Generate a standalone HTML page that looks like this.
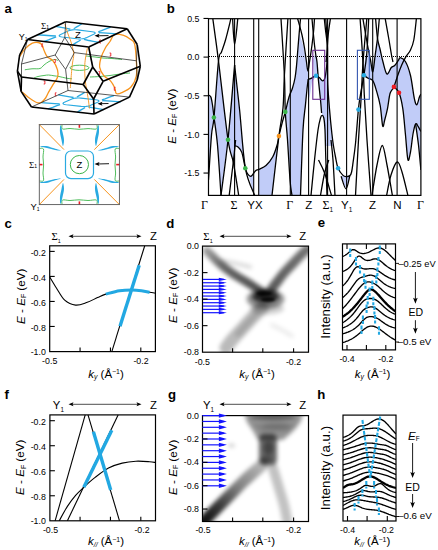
<!DOCTYPE html>
<html><head><meta charset="utf-8"><style>
html,body{margin:0;padding:0;background:#fff;width:438px;height:550px;overflow:hidden;}
svg{display:block;}
</style></head><body>
<svg width="438" height="550" viewBox="0 0 438 550">
<rect width="438" height="550" fill="#fff"/>
<text x="4.4" y="13" font-size="13.2" text-anchor="start" font-weight="bold" font-family='"Liberation Sans", sans-serif' fill="#000">a</text>
<path d="M94.25,33.97 L94.96,33.53 L95.24,33.08 L95.07,32.64 L94.48,32.24 L93.49,31.92 L92.18,31.69 L77.5,29.89 L75.95,29.77 L74.28,29.77 L72.59,29.88 L71.01,30.11 L69.63,30.43 L68.55,30.82 L60.15,34.73 L59.44,35.17 L59.16,35.62 L59.33,36.06 L59.92,36.46 L60.91,36.78 L62.22,37.01 L76.9,38.81 L78.45,38.93 L80.12,38.93 L81.81,38.82 L83.39,38.59 L84.77,38.27 L85.85,37.88Z" stroke="#29aae1" stroke-width="1.1" fill="none" stroke-linejoin="round"/>
<path d="M81.92,23.69 L79.02,25.58 L75.81,27.43 L73.75,28.76" stroke="#29aae1" stroke-width="1.3" fill="none" stroke-linejoin="round"/>
<path d="M110.68,27.21 L105.94,28.88 L101.51,30.59 L98.23,31.76" stroke="#29aae1" stroke-width="1.3" fill="none" stroke-linejoin="round"/>
<path d="M43.72,41.49 L48.46,39.82 L52.89,38.11 L56.17,36.94" stroke="#29aae1" stroke-width="1.3" fill="none" stroke-linejoin="round"/>
<path d="M72.48,45.01 L75.38,43.12 L78.59,41.27 L80.65,39.94" stroke="#29aae1" stroke-width="1.3" fill="none" stroke-linejoin="round"/>
<path d="M55.58,26.42 L61.12,27.43 L66.67,28.45 L70.38,29.24" stroke="#29aae1" stroke-width="1.3" fill="none" stroke-linejoin="round"/>
<path d="M116.78,33.92 L110.08,33.43 L103.39,32.95 L98.53,32.69" stroke="#29aae1" stroke-width="1.3" fill="none" stroke-linejoin="round"/>
<path d="M37.62,34.78 L44.32,35.27 L51.01,35.75 L55.87,36.01" stroke="#29aae1" stroke-width="1.3" fill="none" stroke-linejoin="round"/>
<path d="M98.82,42.28 L93.28,41.27 L87.73,40.25 L84.02,39.46" stroke="#29aae1" stroke-width="1.3" fill="none" stroke-linejoin="round"/>
<path d="M98.14,101.91 L98.8,101.5 L99.03,101.08 L98.82,100.67 L98.17,100.3 L97.14,100 L95.8,99.79 L80.8,98.11 L79.23,98 L77.55,97.99 L75.86,98.1 L74.29,98.31 L72.93,98.6 L71.89,98.97 L63.86,102.59 L63.2,103 L62.97,103.42 L63.18,103.83 L63.83,104.2 L64.86,104.5 L66.2,104.71 L81.2,106.39 L82.77,106.5 L84.45,106.51 L86.14,106.4 L87.71,106.19 L89.07,105.9 L90.11,105.53Z" stroke="#29aae1" stroke-width="1.1" fill="none" stroke-linejoin="round"/>
<path d="M84.56,92.36 L81.85,94.11 L78.83,95.83 L76.89,97.05" stroke="#29aae1" stroke-width="1.3" fill="none" stroke-linejoin="round"/>
<path d="M113.94,95.64 L109.35,97.19 L105.08,98.77 L101.89,99.86" stroke="#29aae1" stroke-width="1.3" fill="none" stroke-linejoin="round"/>
<path d="M48.06,108.86 L52.65,107.31 L56.92,105.73 L60.11,104.64" stroke="#29aae1" stroke-width="1.3" fill="none" stroke-linejoin="round"/>
<path d="M77.44,112.14 L80.15,110.39 L83.17,108.67 L85.11,107.45" stroke="#29aae1" stroke-width="1.3" fill="none" stroke-linejoin="round"/>
<path d="M58.33,94.87 L64.03,95.82 L69.73,96.77 L73.56,97.5" stroke="#29aae1" stroke-width="1.3" fill="none" stroke-linejoin="round"/>
<path d="M120.83,101.87 L114.03,101.42 L107.23,100.97 L102.31,100.72" stroke="#29aae1" stroke-width="1.3" fill="none" stroke-linejoin="round"/>
<path d="M41.17,102.63 L47.97,103.08 L54.77,103.53 L59.69,103.78" stroke="#29aae1" stroke-width="1.3" fill="none" stroke-linejoin="round"/>
<path d="M103.67,109.63 L97.97,108.68 L92.27,107.73 L88.44,107" stroke="#29aae1" stroke-width="1.3" fill="none" stroke-linejoin="round"/>
<path d="M24.8,69.8C26,69.63 29.47,69.02 32,68.8C34.53,68.58 38,69.13 40,68.5C42,67.87 42.5,66.17 44,65C45.5,63.83 47.25,62.42 49,61.5C50.75,60.58 53,59.67 54.5,59.5C56,59.33 57.42,60.33 58,60.5" stroke="#3cb54a" stroke-width="0.9" fill="none"/>
<path d="M34,78C34.67,77.75 36.33,76.92 38,76.5C39.67,76.08 42.23,75.75 44,75.5C45.77,75.25 46.93,74.95 48.6,75C50.27,75.05 52.27,75.55 54,75.8C55.73,76.05 56.93,76.1 59,76.5C61.07,76.9 64.23,77.82 66.4,78.2C68.57,78.58 71.07,78.7 72,78.8" stroke="#3cb54a" stroke-width="0.9" fill="none"/>
<ellipse cx="79.5" cy="67.8" rx="9.5" ry="2.6" stroke="#3cb54a" stroke-width="0.9" fill="none"/>
<path d="M86,56C87.5,56.17 92.17,56.67 95,57C97.83,57.33 100.17,57.75 103,58C105.83,58.25 108.83,58.25 112,58.5C115.17,58.75 120.33,59.33 122,59.5" stroke="#3cb54a" stroke-width="0.9" fill="none"/>
<path d="M90,77C91.67,76.92 96.67,76.75 100,76.5C103.33,76.25 106.67,75.92 110,75.5C113.33,75.08 116.67,74.42 120,74C123.33,73.58 128.33,73.17 130,73" stroke="#3cb54a" stroke-width="0.9" fill="none"/>
<path d="M19.6,56.6C20.47,55.35 22.68,51.33 24.8,49.1C26.92,46.87 30.07,44.3 32.3,43.2C34.53,42.1 36.6,42.25 38.2,42.5C39.8,42.75 40.92,43.35 41.9,44.7C42.88,46.05 43.23,48.62 44.1,50.6C44.97,52.58 45.62,54.88 47.1,56.6C48.58,58.32 51.27,58.7 53,60.9C54.73,63.1 56.75,67.07 57.5,69.8C58.25,72.53 58.25,74.82 57.5,77.3C56.75,79.78 54.48,82.23 53,84.7C51.52,87.17 49.83,89.88 48.6,92.1C47.37,94.32 46.83,96.27 45.6,98C44.37,99.73 42.68,101.75 41.2,102.5C39.72,103.25 38.68,103.25 36.7,102.5C34.72,101.75 31.28,99.37 29.3,98C27.32,96.63 26.17,95.4 24.8,94.3C23.43,93.2 21.72,91.88 21.1,91.4" stroke="#f7941d" stroke-width="1.3" fill="none"/>
<path d="M114.5,34.5C116.77,33.48 121.02,34.65 123.6,35.4C126.18,36.15 128.18,37.63 130,39C131.82,40.37 133.45,40.1 134.5,43.6C135.55,47.1 136,54.6 136.3,60C136.6,65.4 137.18,71.5 136.3,76C135.42,80.5 133.42,84.23 131,87C128.58,89.77 124.25,91.52 121.8,92.6C119.35,93.68 117.47,94.27 116.3,93.5C115.13,92.73 115.73,90.07 114.8,88C113.87,85.93 112.53,83.17 110.7,81.1C108.87,79.03 105.63,77.88 103.8,75.6C101.97,73.32 100.17,70.37 99.7,67.4C99.23,64.43 100.08,61 101,57.8C101.92,54.6 103.7,50.92 105.2,48.2C106.7,45.48 108.45,43.78 110,41.5C111.55,39.22 112.23,35.52 114.5,34.5Z" stroke="#f7941d" stroke-width="1.3" fill="none"/>
<path d="M64.9,24C65.42,25.67 66.98,31 68,34C69.02,37 70.05,38.72 71,42C71.95,45.28 73.45,50.2 73.7,53.7C73.95,57.2 72.85,60.03 72.5,63C72.15,65.97 71.97,67.33 71.6,71.5C71.23,75.67 70.52,85.25 70.3,88" stroke="#f7941d" stroke-width="0.9" fill="none"/>
<path d="M87.4,48.2C87.08,49.83 85.95,54.8 85.5,58C85.05,61.2 84.73,63.57 84.7,67.4C84.67,71.23 84.75,75.98 85.3,81C85.85,86.02 87.3,92.92 88,97.5C88.7,102.08 89.25,106.67 89.5,108.5" stroke="#f7941d" stroke-width="0.9" fill="none"/>
<path d="M43.1,43.9 L41.9,43.9 L41.9,46.9 L43.1,46.9" stroke="#ed1c24" stroke-width="0.9" fill="none"/>
<path d="M43.699999999999996,81.0 L44.9,81.0 L44.9,84.0 L43.699999999999996,84.0" stroke="#ed1c24" stroke-width="0.9" fill="none"/>
<path d="M56.5,92.8 L55.3,92.8 L55.3,95.8 L56.5,95.8" stroke="#ed1c24" stroke-width="0.9" fill="none"/>
<path d="M54.099999999999994,59.5 L55.3,59.5 L55.3,62.5 L54.099999999999994,62.5" stroke="#ed1c24" stroke-width="0.9" fill="none"/>
<path d="M100.9,40.0 L99.7,40.0 L99.7,43.0 L100.9,43.0" stroke="#ed1c24" stroke-width="0.9" fill="none"/>
<path d="M109.6,53.0 L110.8,53.0 L110.8,56.0 L109.6,56.0" stroke="#ed1c24" stroke-width="0.9" fill="none"/>
<path d="M115.5,87.3 L114.3,87.3 L114.3,90.3 L115.5,90.3" stroke="#ed1c24" stroke-width="0.9" fill="none"/>
<path d="M98.5,71.4 L99.7,71.4 L99.7,74.4 L98.5,74.4" stroke="#ed1c24" stroke-width="0.9" fill="none"/>
<line x1="65.7" y1="21.7" x2="64.8" y2="37.4" stroke="#222" stroke-width="0.75"/>
<line x1="64.8" y1="37.4" x2="55.2" y2="55" stroke="#222" stroke-width="0.75"/>
<line x1="55.2" y1="55" x2="65.6" y2="69.4" stroke="#222" stroke-width="0.75"/>
<line x1="65.6" y1="69.4" x2="74.4" y2="52.6" stroke="#222" stroke-width="0.75"/>
<line x1="74.4" y1="52.6" x2="64.8" y2="37.4" stroke="#222" stroke-width="0.75"/>
<line x1="55.2" y1="55" x2="21.5" y2="64" stroke="#222" stroke-width="0.75"/>
<line x1="74.4" y1="52.6" x2="136.5" y2="60.8" stroke="#222" stroke-width="0.75"/>
<line x1="65.6" y1="69.4" x2="68" y2="90.5" stroke="#222" stroke-width="0.75"/>
<line x1="68" y1="90.5" x2="31.5" y2="107" stroke="#222" stroke-width="0.75"/>
<line x1="68" y1="90.5" x2="129.5" y2="97.1" stroke="#222" stroke-width="0.75"/>
<line x1="27.5" y1="39.5" x2="21.5" y2="64" stroke="#222" stroke-width="0.75"/>
<line x1="21.5" y1="64" x2="21.5" y2="77" stroke="#222" stroke-width="0.75"/>
<line x1="136.5" y1="60.8" x2="137.2" y2="44.5" stroke="#222" stroke-width="0.75"/>
<line x1="136.5" y1="60.8" x2="137.2" y2="80" stroke="#222" stroke-width="0.75"/>
<line x1="27.5" y1="39.5" x2="65.7" y2="21.7" stroke="#000" stroke-width="1.6"/>
<line x1="65.7" y1="21.7" x2="127.2" y2="28.7" stroke="#000" stroke-width="1.6"/>
<line x1="127.2" y1="28.7" x2="88.7" y2="47" stroke="#000" stroke-width="1.6"/>
<line x1="88.7" y1="47" x2="27.5" y2="39.5" stroke="#000" stroke-width="1.6"/>
<line x1="27.5" y1="39.5" x2="19.6" y2="55" stroke="#000" stroke-width="1.6"/>
<line x1="19.6" y1="55" x2="17.4" y2="71.3" stroke="#000" stroke-width="1.6"/>
<line x1="17.4" y1="71.3" x2="21.1" y2="91.4" stroke="#000" stroke-width="1.6"/>
<line x1="21.1" y1="91.4" x2="31.5" y2="107" stroke="#000" stroke-width="1.6"/>
<line x1="31.5" y1="107" x2="94" y2="114" stroke="#000" stroke-width="1.6"/>
<line x1="94" y1="114" x2="129.5" y2="97.1" stroke="#000" stroke-width="1.6"/>
<line x1="129.5" y1="97.1" x2="137.2" y2="80" stroke="#000" stroke-width="1.6"/>
<line x1="137.2" y1="80" x2="140.3" y2="66.3" stroke="#000" stroke-width="1.6"/>
<line x1="140.3" y1="66.3" x2="137.2" y2="44.5" stroke="#000" stroke-width="1.6"/>
<line x1="137.2" y1="44.5" x2="127.2" y2="28.7" stroke="#000" stroke-width="1.6"/>
<line x1="88.7" y1="47" x2="92.7" y2="67" stroke="#000" stroke-width="1.6"/>
<line x1="92.7" y1="67" x2="83.2" y2="84.5" stroke="#000" stroke-width="1.6"/>
<line x1="83.2" y1="84.5" x2="93.6" y2="99" stroke="#000" stroke-width="1.6"/>
<line x1="93.6" y1="99" x2="103.1" y2="81.3" stroke="#000" stroke-width="1.6"/>
<line x1="103.1" y1="81.3" x2="92.7" y2="67" stroke="#000" stroke-width="1.6"/>
<line x1="93.6" y1="99" x2="94" y2="114" stroke="#000" stroke-width="1.6"/>
<line x1="83.2" y1="84.5" x2="21.5" y2="77" stroke="#000" stroke-width="1.6"/>
<line x1="103.1" y1="81.3" x2="140.3" y2="66.3" stroke="#000" stroke-width="1.6"/>
<line x1="21.5" y1="77" x2="21.1" y2="91.4" stroke="#000" stroke-width="1.6"/>
<line x1="17.4" y1="71.3" x2="21.5" y2="77" stroke="#000" stroke-width="1.6"/>
<text x="18.8" y="39.8" font-size="9" font-family='"Liberation Sans", sans-serif' fill="#000">Y<tspan font-size="5" dy="1.5">1</tspan></text>
<text x="41" y="29.2" font-size="9" font-family='"Liberation Serif", serif' fill="#000">Σ<tspan font-size="5" dy="0" font-family='"Liberation Sans", sans-serif'>1</tspan></text>
<text x="78" y="37.5" font-size="9.5" text-anchor="middle" font-weight="normal" font-family='"Liberation Sans", sans-serif' fill="#000">Z</text>
<line x1="108.5" y1="35.6" x2="97" y2="35.8" stroke="#000" stroke-width="0.9"/>
<path d="M94.5,35.8 L99.5,33.8 L98.5,35.8 L99.5,37.8Z" fill="#000"/>
<line x1="108.5" y1="103.5" x2="100" y2="103.7" stroke="#000" stroke-width="0.9"/>
<path d="M97.5,103.7 L102.5,101.7 L101.5,103.7 L102.5,105.7Z" fill="#000"/>
<line x1="39.3" y1="124.6" x2="64" y2="149.6" stroke="#f7941d" stroke-width="1.0"/>
<line x1="119.4" y1="124.6" x2="94.3" y2="149.6" stroke="#f7941d" stroke-width="1.0"/>
<line x1="39.3" y1="204.6" x2="64" y2="179.4" stroke="#f7941d" stroke-width="1.0"/>
<line x1="119.4" y1="204.6" x2="94.3" y2="179.4" stroke="#f7941d" stroke-width="1.0"/>
<rect x="65.5" y="151" width="28" height="27.6" rx="5.5" ry="5.5" stroke="#29aae1" stroke-width="1.2" fill="none"/>
<circle cx="79.4" cy="164.6" r="9.1" stroke="#3cb54a" stroke-width="1.0" fill="none"/>
<text x="79.4" y="168.2" font-size="9.5" text-anchor="middle" font-weight="normal" font-family='"Liberation Sans", sans-serif' fill="#000">Z</text>
<line x1="109" y1="163.7" x2="97" y2="164" stroke="#000" stroke-width="0.9"/>
<path d="M94.5,164 L99.5,162 L98.5,164 L99.5,166Z" fill="#000"/>
<path d="M62,125C62.08,125.67 61.17,128.42 62.5,129C63.83,129.58 67.25,128.45 70,128.5C72.75,128.55 76,129.28 79,129.3C82,129.32 85.08,128.65 88,128.6C90.92,128.55 95,129.6 96.5,129C98,128.4 96.92,125.67 97,125" stroke="#3cb54a" stroke-width="0.9" fill="none"/>
<path d="M62,204C62.08,203.33 61.17,200.58 62.5,200C63.83,199.42 67.25,200.53 70,200.5C72.75,200.47 76,199.8 79,199.8C82,199.8 85.08,200.47 88,200.5C90.92,200.53 95,199.42 96.5,200C98,200.58 96.92,203.33 97,204" stroke="#3cb54a" stroke-width="0.9" fill="none"/>
<path d="M39.5,148.5C40.17,148.58 42.92,147.58 43.5,149C44.08,150.42 42.98,154.33 43,157C43.02,159.67 43.6,162.33 43.6,165C43.6,167.67 43.02,170.42 43,173C42.98,175.58 44.08,179.17 43.5,180.5C42.92,181.83 40.17,180.92 39.5,181" stroke="#3cb54a" stroke-width="0.9" fill="none"/>
<path d="M119.2,148.5C118.53,148.58 115.8,147.58 115.2,149C114.6,150.42 115.63,154.33 115.6,157C115.57,159.67 115,162.33 115,165C115,167.67 115.57,170.42 115.6,173C115.63,175.58 114.6,179.17 115.2,180.5C115.8,181.83 118.53,180.92 119.2,181" stroke="#3cb54a" stroke-width="0.9" fill="none"/>
<path d="M60.5,125C60.92,125 61.92,129.5 62.5,132C63.08,134.5 63.92,137.67 64,140C64.08,142.33 63.42,146 63,146C62.58,146 62,142.33 61.5,140C61,137.67 60.17,134.5 60,132C59.83,129.5 60.08,125 60.5,125Z" fill="#29aae1" stroke="none"/>
<path d="M98.5,125C98.08,125 97.08,129.5 96.5,132C95.92,134.5 95.08,137.67 95,140C94.92,142.33 95.58,146 96,146C96.42,146 97,142.33 97.5,140C98,137.67 98.83,134.5 99,132C99.17,129.5 98.92,125 98.5,125Z" fill="#29aae1" stroke="none"/>
<path d="M60.5,204C60.92,204 61.92,199.5 62.5,197C63.08,194.5 63.92,191.33 64,189C64.08,186.67 63.42,183 63,183C62.58,183 62,186.67 61.5,189C61,191.33 60.17,194.5 60,197C59.83,199.5 60.08,204 60.5,204Z" fill="#29aae1" stroke="none"/>
<path d="M98.5,204C98.08,204 97.08,199.5 96.5,197C95.92,194.5 95.08,191.33 95,189C94.92,186.67 95.58,183 96,183C96.42,183 97,186.67 97.5,189C98,191.33 98.83,194.5 99,197C99.17,199.5 98.92,204 98.5,204Z" fill="#29aae1" stroke="none"/>
<path d="M39.5,146.5C39.67,146.83 44.42,147.42 47,148C49.58,148.58 52.67,149.58 55,150C57.33,150.42 61.33,150.83 61,150.5C60.67,150.17 55.5,148.75 53,148C50.5,147.25 48.25,146.25 46,146C43.75,145.75 39.33,146.17 39.5,146.5Z" fill="#29aae1" stroke="none"/>
<path d="M119.3,146.5C119.13,146.83 114.55,147.42 112,148C109.45,148.58 106.33,149.58 104,150C101.67,150.42 97.67,150.83 98,150.5C98.33,150.17 103.5,148.75 106,148C108.5,147.25 110.78,146.25 113,146C115.22,145.75 119.47,146.17 119.3,146.5Z" fill="#29aae1" stroke="none"/>
<path d="M39.5,182.5C39.67,182.17 44.42,181.58 47,181C49.58,180.42 52.67,179.42 55,179C57.33,178.58 61.33,178.17 61,178.5C60.67,178.83 55.5,180.25 53,181C50.5,181.75 48.25,182.75 46,183C43.75,183.25 39.33,182.83 39.5,182.5Z" fill="#29aae1" stroke="none"/>
<path d="M119.3,182.5C119.13,182.17 114.55,181.58 112,181C109.45,180.42 106.33,179.42 104,179C101.67,178.58 97.67,178.17 98,178.5C98.33,178.83 103.5,180.25 106,181C108.5,181.75 110.78,182.75 113,183C115.22,183.25 119.47,182.83 119.3,182.5Z" fill="#29aae1" stroke="none"/>
<line x1="79.4" y1="124.6" x2="79.4" y2="127.8" stroke="#ed1c24" stroke-width="1.6"/>
<line x1="79.4" y1="204.6" x2="79.4" y2="201.4" stroke="#ed1c24" stroke-width="1.6"/>
<line x1="39.3" y1="164.6" x2="42.5" y2="164.6" stroke="#ed1c24" stroke-width="1.6"/>
<line x1="119.4" y1="164.6" x2="116.2" y2="164.6" stroke="#ed1c24" stroke-width="1.6"/>
<rect x="39.3" y="124.6" width="80.10000000000001" height="80.0" stroke="#555" stroke-width="0.9" fill="none"/>
<text x="29" y="167.7" font-size="9" font-family='"Liberation Serif", serif' fill="#000">Σ<tspan font-size="5" font-family='"Liberation Sans", sans-serif'>1</tspan></text>
<text x="30.6" y="210.2" font-size="9.4" font-family='"Liberation Sans", sans-serif' fill="#000">Y<tspan font-size="5" dy="1.2">1</tspan></text>
<text x="166.8" y="12.8" font-size="13.2" text-anchor="start" font-weight="bold" font-family='"Liberation Sans", sans-serif' fill="#000">b</text>
<clipPath id="clipb"><rect x="208.5" y="18.7" width="212.4" height="176.7"/></clipPath>
<g clip-path="url(#clipb)">
<path d="M208.5,95.5 L209.5,95.5 L210.5,96.5 L211.3,98.5 L212.5,105 L213.5,113 L214,117.4 L211.5,135 L208.5,180Z" fill="#c1ccf8" stroke="none"/>
<path d="M218.5,61 L214,117.4 L217.5,145 L221,195.4 L224,170 L228,139.7Z" fill="#c1ccf8" stroke="none"/>
<path d="M234.6,65 L228,139.7 L231,152 L234.5,162 L234.5,145.8 L238,147 L241.8,152.4 L245.4,168.3 L239.6,110Z" fill="#c1ccf8" stroke="none"/>
<path d="M245.4,168.3 L247.8,174.1 L251.2,176.2 L253.7,173 L253.7,195.4 L250,180Z" fill="#c1ccf8" stroke="none"/>
<path d="M258.7,169.5 L262,168 L266,165.5 L272.8,156.8 L277.2,144.7 L278.9,136.1 L275,165 L272,195.4 L258.7,195.4Z" fill="#c1ccf8" stroke="none"/>
<path d="M299.2,33 L297.8,50 L296.5,66 L295,78 L292.5,88 L289,97 L285.3,111.9 L287.5,139.6 L290.1,181 L292,195.4 L300.5,195.4 L303,130 L305.4,105.4 L307,89 L308.2,79 L307.9,71 L306.5,62 L304,48Z" fill="#c1ccf8" stroke="none"/>
<path d="M308.6,80 L311.1,79.2 L313.5,78 L316,76.2 L318.4,79.6 L320.5,100 L322.1,115.2 L323.8,118 L325,130 L326,146 L333.5,146 L331.9,133.7 L329.5,109 L327.8,84.6 L327.3,70 L325,77.6 L322.6,80.8 L319.3,77.6 L316,76.5 L312,82 L310,95 L308.6,100Z" fill="#c1ccf8" stroke="none"/>
<path d="M313.2,60 L314,74 L316,75.6 L318,74.5 L317,62 L315.5,52Z" fill="#c1ccf8" stroke="none"/>
<path d="M326.7,57 L325.2,80 L326,86 L328,80 L327.5,62Z" fill="#c1ccf8" stroke="none"/>
<path d="M341.1,176.3 L343,175.4 L346.6,176.6 L350,175.6 L346,188.9Z" fill="#c1ccf8" stroke="none"/>
<path d="M363.6,75.5 L364.5,62 L366,55 L368.5,54 L370,58 L372.8,71.8 L375.2,55 L377.5,38.4 L380,49 L383,62 L386.9,74 L391.3,67.5 L394.9,65.3 L398.5,60.2 L400.3,57.6 L405.4,61.5 L410.5,75.5 L414.3,98.4 L416.8,104.8 L419.4,97.1 L420.9,95 L420.9,168 L418.5,145 L415.6,123.9 L413,134 L410.5,152 L407.9,159.6 L405.4,134 L402.8,108.6 L399,92.8 L393.9,86.9 L390.1,93.3 L387.5,108.6 L385,120 L382.7,126 L380.2,105.5 L376.5,90.9 L372.8,80.5 L368.7,79Z" fill="#c1ccf8" stroke="none"/>
<line x1="234.6" y1="18.7" x2="234.6" y2="195.4" stroke="#000" stroke-width="1.1"/>
<line x1="253.7" y1="18.7" x2="253.7" y2="195.4" stroke="#000" stroke-width="1.1"/>
<line x1="258.7" y1="18.7" x2="258.7" y2="195.4" stroke="#000" stroke-width="1.1"/>
<line x1="290.3" y1="18.7" x2="290.3" y2="195.4" stroke="#000" stroke-width="1.1"/>
<line x1="308.6" y1="18.7" x2="308.6" y2="195.4" stroke="#000" stroke-width="1.1"/>
<line x1="327.6" y1="18.7" x2="327.6" y2="195.4" stroke="#000" stroke-width="1.1"/>
<line x1="346.6" y1="18.7" x2="346.6" y2="195.4" stroke="#000" stroke-width="1.1"/>
<line x1="372.7" y1="18.7" x2="372.7" y2="195.4" stroke="#000" stroke-width="1.1"/>
<line x1="397.1" y1="18.7" x2="397.1" y2="195.4" stroke="#000" stroke-width="1.1"/>
<line x1="209" y1="56.5" x2="420.9" y2="56.5" stroke="#000" stroke-width="1" stroke-dasharray="1,1"/>
<path d="M212.8,18.7C213.75,25.75 215.97,40.83 218.5,61C221.03,81.17 225.53,122.83 228,139.7C230.47,156.57 231.52,152.92 233.3,162.2C235.08,171.48 237.8,189.87 238.7,195.4" stroke="#000" stroke-width="1.3" fill="none"/>
<path d="M230.9,18.7C230,22.25 227.07,34.45 225.5,40C223.93,45.55 222.67,48.5 221.5,52C220.33,55.5 219.75,50.1 218.5,61C217.25,71.9 215.17,105.07 214,117.4C212.83,129.73 212.42,124.57 211.5,135C210.58,145.43 209,172.5 208.5,180" stroke="#000" stroke-width="1.3" fill="none"/>
<path d="M208.5,95.5C208.67,95.5 209.17,95.33 209.5,95.5C209.83,95.67 210.2,96 210.5,96.5C210.8,97 210.97,97.08 211.3,98.5C211.63,99.92 212.13,102.58 212.5,105C212.87,107.42 213.25,110.93 213.5,113C213.75,115.07 213.33,112.07 214,117.4C214.67,122.73 216.33,132 217.5,145C218.67,158 220.42,187 221,195.4" stroke="#000" stroke-width="1.3" fill="none"/>
<path d="M232.6,18.7C232.93,22.98 233.73,44.4 234.6,44.4C235.47,44.4 237.27,22.98 237.8,18.7" stroke="#000" stroke-width="1.3" fill="none"/>
<path d="M234.6,65C233.5,77.45 230.27,117.97 228,139.7C225.73,161.43 222.17,186.12 221,195.4" stroke="#000" stroke-width="1.3" fill="none"/>
<path d="M235.6,140C235.43,141.67 234.98,146.33 234.6,150C234.22,153.67 234.2,154.43 233.3,162C232.4,169.57 229.88,189.83 229.2,195.4" stroke="#000" stroke-width="1.3" fill="none"/>
<path d="M234.6,65C235.43,72.5 237.8,92.78 239.6,110C241.4,127.22 242.88,154.07 245.4,168.3C247.92,182.53 253.15,190.88 254.7,195.4" stroke="#000" stroke-width="1.3" fill="none"/>
<path d="M234.5,145.8C235.08,146 236.78,145.9 238,147C239.22,148.1 240.57,148.85 241.8,152.4C243.03,155.95 244.4,164.68 245.4,168.3C246.4,171.92 246.83,172.78 247.8,174.1C248.77,175.42 249.9,176.77 251.2,176.2C252.5,175.63 254.3,171.85 255.6,170.7C256.9,169.55 257.27,170.17 259,169.3C260.73,168.43 263.7,167.58 266,165.5C268.3,163.42 270.93,160.27 272.8,156.8C274.67,153.33 276.18,148.15 277.2,144.7C278.22,141.25 278.05,139.83 278.9,136.1C279.75,132.37 281.23,126.33 282.3,122.3C283.37,118.27 284.18,116.12 285.3,111.9C286.42,107.68 287.8,100.98 289,97C290.2,93.02 291.5,91.17 292.5,88C293.5,84.83 294.33,81.67 295,78C295.67,74.33 296.03,70.67 296.5,66C296.97,61.33 297.35,55.5 297.8,50C298.25,44.5 298.75,38.22 299.2,33C299.65,27.78 300.28,21.08 300.5,18.7" stroke="#000" stroke-width="1.3" fill="none"/>
<path d="M281,18.7C281.57,28.17 283.68,59.97 284.4,75.5C285.12,91.03 284.78,101.22 285.3,111.9C285.82,122.58 286.7,128.08 287.5,139.6C288.3,151.12 289.35,171.7 290.1,181C290.85,190.3 291.68,193 292,195.4" stroke="#000" stroke-width="1.3" fill="none"/>
<path d="M287.9,18.7C287.32,28.17 285.22,60.62 284.4,75.5C283.58,90.38 283.92,97.9 283,108C282.08,118.1 280.73,121.53 278.9,136.1C277.07,150.67 273.15,185.52 272,195.4" stroke="#000" stroke-width="1.3" fill="none"/>
<path d="M297.6,18.7C297.83,19.5 298.27,20.78 299,23.5C299.73,26.22 301.08,30.92 302,35C302.92,39.08 303.75,43.5 304.5,48C305.25,52.5 305.93,58.17 306.5,62C307.07,65.83 307.4,71 307.9,71C308.4,71 308.82,66.33 309.5,62C310.18,57.67 311.33,50 312,45C312.67,40 313.08,36.38 313.5,32C313.92,27.62 314.33,20.92 314.5,18.7" stroke="#000" stroke-width="1.3" fill="none"/>
<path d="M308.2,79C308,80.67 307.47,84.6 307,89C306.53,93.4 306.07,98.57 305.4,105.4C304.73,112.23 303.82,115 303,130C302.18,145 300.92,184.5 300.5,195.4" stroke="#000" stroke-width="1.3" fill="none"/>
<path d="M308.6,79.2C309.02,79.07 309.87,79 311.1,78.4C312.33,77.8 314.63,75.73 316,75.6C317.37,75.47 318.2,76.73 319.3,77.6C320.4,78.47 321.65,80.8 322.6,80.8C323.55,80.8 324.27,80.73 325,77.6C325.73,74.47 326.6,67.3 327,62C327.4,56.7 327.15,50.8 327.4,45.8C327.65,40.8 328,36.52 328.5,32C329,27.48 330.08,20.92 330.4,18.7" stroke="#000" stroke-width="1.3" fill="none"/>
<path d="M325.8,18.7C325.92,20.58 326.23,25.48 326.5,30C326.77,34.52 327.35,41.63 327.4,45.8C327.45,49.97 327.03,52.3 326.8,55C326.57,57.7 326.13,60.83 326,62" stroke="#000" stroke-width="1.3" fill="none"/>
<path d="M311,195.4C311.62,189.2 313.53,169.1 314.7,158.2C315.87,147.3 317.03,136.7 318,130C318.97,123.3 319.82,120.43 320.5,118C321.18,115.57 321.55,115.4 322.1,115.4C322.65,115.4 323.32,115.57 323.8,118C324.28,120.43 324.67,123.3 325,130C325.33,136.7 325.47,147.3 325.8,158.2C326.13,169.1 326.8,189.2 327,195.4" stroke="#000" stroke-width="1.3" fill="none"/>
<path d="M312,18.7C312.17,20.58 312.58,25.62 313,30C313.42,34.38 314.03,40.83 314.5,45C314.97,49.17 315.38,52.17 315.8,55C316.22,57.83 316.57,57.9 317,62C317.43,66.1 317.82,73.27 318.4,79.6C318.98,85.93 319.97,94.43 320.5,100C321.03,105.57 321.42,110.83 321.6,113" stroke="#000" stroke-width="1.3" fill="none"/>
<path d="M324.3,18.7C324.5,20.58 324.98,25.48 325.5,30C326.02,34.52 327.07,40.8 327.4,45.8C327.73,50.8 327.43,53.53 327.5,60C327.57,66.47 327.47,76.43 327.8,84.6C328.13,92.77 328.82,100.82 329.5,109C330.18,117.18 331.23,127.53 331.9,133.7C332.57,139.87 332.9,142.12 333.5,146C334.1,149.88 334.75,153.33 335.5,157C336.25,160.67 336.75,164.93 338,168C339.25,171.07 341.57,173.97 343,175.4C344.43,176.83 345.43,176.57 346.6,176.6C347.77,176.63 349.17,176.37 350,175.6C350.83,174.83 351.1,174.12 351.6,172C352.1,169.88 352.35,167.65 353,162.9C353.65,158.15 354.6,152.38 355.5,143.5C356.4,134.62 357.58,117.68 358.4,109.6C359.22,101.52 359.48,100.73 360.4,95C361.32,89.27 362.83,82.17 363.9,75.2C364.97,68.23 366,62.62 366.8,53.2C367.6,43.78 368.38,24.45 368.7,18.7" stroke="#000" stroke-width="1.3" fill="none"/>
<path d="M341.1,176.3C341.92,178.4 344.55,188.98 346,188.9C347.45,188.82 349.17,177.98 349.8,175.8" stroke="#000" stroke-width="1.3" fill="none"/>
<path d="M320.5,195.4C321.18,191.67 323.22,178.9 324.6,173C325.98,167.1 328.1,162.17 328.8,160" stroke="#000" stroke-width="1.3" fill="none"/>
<path d="M318.5,160C319.52,162.17 322.43,167.1 324.6,173C326.77,178.9 330.35,191.67 331.5,195.4" stroke="#000" stroke-width="1.3" fill="none"/>
<path d="M331,140C331.33,143.33 332.33,150.77 333,160C333.67,169.23 334.67,189.5 335,195.4" stroke="#000" stroke-width="1.3" fill="none"/>
<path d="M360.1,18.7C360.58,26.03 362.3,49.98 363,62.7C363.7,75.42 363.63,82.12 364.3,95C364.97,107.88 365.88,123.27 367,140C368.12,156.73 370.33,186.17 371,195.4" stroke="#000" stroke-width="1.3" fill="none"/>
<path d="M366.8,18.7C366.17,26.03 363.92,49.98 363,62.7C362.08,75.42 362.05,82.12 361.3,95C360.55,107.88 359.47,123.27 358.5,140C357.53,156.73 356,186.17 355.5,195.4" stroke="#000" stroke-width="1.3" fill="none"/>
<path d="M363.9,75.2C364.53,75.67 366.2,77.05 367.7,78C369.2,78.95 371.43,78.75 372.9,80.9C374.37,83.05 375.28,86.8 376.5,90.9C377.72,95 379.17,99.65 380.2,105.5C381.23,111.35 381.95,123.58 382.7,126C383.45,128.42 383.9,122.9 384.7,120C385.5,117.1 386.6,113.05 387.5,108.6C388.4,104.15 389.03,96.92 390.1,93.3C391.17,89.68 392.63,89.87 393.9,86.9C395.17,83.93 396.42,79.1 397.7,75.5C398.98,71.9 400.32,68.28 401.6,65.3C402.88,62.32 403.92,60.15 405.4,57.6C406.88,55.05 409.1,52.93 410.5,50C411.9,47.07 412.82,45.22 413.8,40C414.78,34.78 415.97,22.25 416.4,18.7" stroke="#000" stroke-width="1.3" fill="none"/>
<path d="M362.9,18.7C363.67,23.08 366.23,38.12 367.5,45C368.77,51.88 369.62,55.53 370.5,60C371.38,64.47 372.02,72.63 372.8,71.8C373.58,70.97 374.42,60.57 375.2,55C375.98,49.43 376.82,44.45 377.5,38.4C378.18,32.35 379,21.98 379.3,18.7" stroke="#000" stroke-width="1.3" fill="none"/>
<path d="M375.6,18.7C375.92,21.98 376.77,33.35 377.5,38.4C378.23,43.45 379.08,45.07 380,49C380.92,52.93 381.85,57.83 383,62C384.15,66.17 385.52,73.08 386.9,74C388.28,74.92 389.97,68.95 391.3,67.5C392.63,66.05 393.7,66.52 394.9,65.3C396.1,64.08 397.6,61.48 398.5,60.2C399.4,58.92 399.15,57.38 400.3,57.6C401.45,57.82 403.7,58.52 405.4,61.5C407.1,64.48 409.02,69.35 410.5,75.5C411.98,81.65 413.25,93.52 414.3,98.4C415.35,103.28 415.95,105.02 416.8,104.8C417.65,104.58 418.72,98.9 419.4,97.1C420.08,95.3 420.65,94.52 420.9,94" stroke="#000" stroke-width="1.3" fill="none"/>
<path d="M385.2,18.7C385.83,22.25 387.95,33.95 389,40C390.05,46.05 390.83,51.33 391.5,55C392.17,58.67 392.75,60.83 393,62" stroke="#000" stroke-width="1.3" fill="none"/>
<path d="M393.9,86.9C394.75,87.88 397.52,89.18 399,92.8C400.48,96.42 401.73,101.73 402.8,108.6C403.87,115.47 404.55,125.5 405.4,134C406.25,142.5 407.05,156.6 407.9,159.6C408.75,162.6 409.65,156.27 410.5,152C411.35,147.73 412.15,138.68 413,134C413.85,129.32 414.75,125.17 415.6,123.9C416.45,122.63 417.22,125.13 418.1,126.4C418.98,127.67 420.43,130.65 420.9,131.5" stroke="#000" stroke-width="1.3" fill="none"/>
<path d="M372,195.4C372.83,190.33 375.28,173.32 377,165C378.72,156.68 380.63,145.5 382.3,145.5C383.97,145.5 385.32,156.68 387,165C388.68,173.32 391.5,190.33 392.4,195.4" stroke="#000" stroke-width="1.3" fill="none"/>
<path d="M386.6,195.4C387.33,192 389.23,180.57 391,175C392.77,169.43 395.37,162.5 397.2,162C399.03,161.5 400.22,166.43 402,172C403.78,177.57 406.92,191.5 407.9,195.4" stroke="#000" stroke-width="1.3" fill="none"/>
<path d="M415.6,123.9C416.08,127.42 417.62,137.32 418.5,145C419.38,152.68 420.5,165.83 420.9,170" stroke="#000" stroke-width="1.3" fill="none"/>
</g>
<rect x="312.8" y="50.3" width="11.9" height="49" stroke="#6b2d90" stroke-width="1.1" fill="none"/>
<rect x="357.4" y="50.3" width="11.9" height="49" stroke="#3557b0" stroke-width="1.1" fill="none"/>
<circle cx="213.9" cy="117.5" r="2.3" fill="#3cb54a"/>
<circle cx="228" cy="139.8" r="2.3" fill="#3cb54a"/>
<circle cx="245.3" cy="168.2" r="2.3" fill="#3cb54a"/>
<circle cx="285.3" cy="111.9" r="2.3" fill="#3cb54a"/>
<circle cx="278.9" cy="136.1" r="2.3" fill="#f7941d"/>
<circle cx="316.1" cy="75.7" r="2.3" fill="#27aae1"/>
<circle cx="363.9" cy="75.2" r="2.3" fill="#27aae1"/>
<circle cx="358.5" cy="109.6" r="2.3" fill="#27aae1"/>
<circle cx="338.1" cy="168.3" r="2.3" fill="#27aae1"/>
<circle cx="393.9" cy="86.9" r="2.3" fill="#ed1c24"/>
<circle cx="399" cy="92.8" r="2.3" fill="#ed1c24"/>
<rect x="208.5" y="18.7" width="212.4" height="176.7" stroke="#000" stroke-width="1.2" fill="none"/>
<line x1="203.5" y1="18.45" x2="208.5" y2="18.45" stroke="#000" stroke-width="1.1"/>
<text x="199.4" y="21.55" font-size="8.8" text-anchor="end" font-weight="normal" font-family='"Liberation Sans", sans-serif' fill="#000">0.5</text>
<line x1="203.5" y1="57.1" x2="208.5" y2="57.1" stroke="#000" stroke-width="1.1"/>
<text x="199.4" y="60.2" font-size="8.8" text-anchor="end" font-weight="normal" font-family='"Liberation Sans", sans-serif' fill="#000">0.0</text>
<line x1="203.5" y1="95.75" x2="208.5" y2="95.75" stroke="#000" stroke-width="1.1"/>
<text x="199.4" y="98.85" font-size="8.8" text-anchor="end" font-weight="normal" font-family='"Liberation Sans", sans-serif' fill="#000">-0.5</text>
<line x1="203.5" y1="134.4" x2="208.5" y2="134.4" stroke="#000" stroke-width="1.1"/>
<text x="199.4" y="137.5" font-size="8.8" text-anchor="end" font-weight="normal" font-family='"Liberation Sans", sans-serif' fill="#000">-1.0</text>
<line x1="203.5" y1="173.05" x2="208.5" y2="173.05" stroke="#000" stroke-width="1.1"/>
<text x="199.4" y="176.15" font-size="8.8" text-anchor="end" font-weight="normal" font-family='"Liberation Sans", sans-serif' fill="#000">-1.5</text>
<text transform="translate(175.5,116.2) rotate(-90)" font-size="11.6" text-anchor="middle" font-family='"Liberation Sans", sans-serif' fill="#000"><tspan font-style="italic">E</tspan> - <tspan font-style="italic">E</tspan><tspan font-size="6.96" dy="1.5">F</tspan><tspan dy="-1.5"> (eV)</tspan></text>
<text x="204.5" y="208.6" font-size="12" text-anchor="middle" font-weight="normal" font-family='"Liberation Serif", serif' fill="#000">Γ</text>
<text x="234" y="208.6" font-size="12" text-anchor="middle" font-weight="normal" font-family='"Liberation Serif", serif' fill="#000">Σ</text>
<text x="289.7" y="208.6" font-size="12" text-anchor="middle" font-weight="normal" font-family='"Liberation Serif", serif' fill="#000">Γ</text>
<text x="420.5" y="208.6" font-size="12" text-anchor="middle" font-weight="normal" font-family='"Liberation Serif", serif' fill="#000">Γ</text>
<text x="254.9" y="208.6" font-size="11.5" text-anchor="middle" font-weight="normal" font-family='"Liberation Sans", sans-serif' fill="#000">YX</text>
<text x="308.8" y="208.6" font-size="11.5" text-anchor="middle" font-weight="normal" font-family='"Liberation Sans", sans-serif' fill="#000">Z</text>
<text x="327.8" y="208.6" font-size="12" text-anchor="middle" font-family='"Liberation Serif", serif' fill="#000">Σ<tspan font-size="6.5" dy="3" font-family='"Liberation Sans", sans-serif'>1</tspan></text>
<text x="346.7" y="208.6" font-size="11.5" text-anchor="middle" font-family='"Liberation Sans", sans-serif' fill="#000">Y<tspan font-size="6.5" dy="3">1</tspan></text>
<text x="372.6" y="208.6" font-size="11.5" text-anchor="middle" font-weight="normal" font-family='"Liberation Sans", sans-serif' fill="#000">Z</text>
<text x="397.3" y="208.6" font-size="11.5" text-anchor="middle" font-weight="normal" font-family='"Liberation Sans", sans-serif' fill="#000">N</text>
<text x="4.5" y="228.3" font-size="13.2" text-anchor="start" font-weight="bold" font-family='"Liberation Sans", sans-serif' fill="#000">c</text>
<path d="M49.7,277C50.82,278.83 53.9,284.13 56.4,288C58.9,291.87 61.5,297.35 64.7,300.2C67.9,303.05 71.95,304.7 75.6,305.1C79.25,305.5 82.95,303.85 86.6,302.6C90.25,301.35 94.3,299.02 97.5,297.6C100.7,296.18 102.13,295.23 105.8,294.1C109.47,292.97 115.17,291.48 119.5,290.8C123.83,290.12 128.15,290.02 131.8,290C135.45,289.98 138.43,290.32 141.4,290.7C144.37,291.08 147.27,291.88 149.6,292.3C151.93,292.72 154.43,293.05 155.4,293.2" stroke="#000" stroke-width="1.1" fill="none"/>
<line x1="111.8" y1="351.6" x2="144.7" y2="245.8" stroke="#000" stroke-width="1.1"/>
<path d="M105.8,294.1C108.08,293.55 115.17,291.48 119.5,290.8C123.83,290.12 128.15,290.02 131.8,290C135.45,289.98 138.43,290.32 141.4,290.7C144.37,291.08 148.23,292.03 149.6,292.3" stroke="#22a8e2" stroke-width="3.0" fill="none" stroke-linecap="butt"/>
<line x1="120" y1="326.3" x2="139.2" y2="265.2" stroke="#22a8e2" stroke-width="3.4"/>
<rect x="49.7" y="245.8" width="105.7" height="105.8" stroke="#000" stroke-width="1.2" fill="none"/>
<line x1="49.7" y1="251.4" x2="54.7" y2="251.4" stroke="#000" stroke-width="1.1"/>
<text x="45.8" y="255.5" font-size="8.8" text-anchor="end" font-weight="normal" font-family='"Liberation Sans", sans-serif' fill="#000">-0.2</text>
<line x1="49.7" y1="276.42" x2="54.7" y2="276.42" stroke="#000" stroke-width="1.1"/>
<text x="45.8" y="280.52" font-size="8.8" text-anchor="end" font-weight="normal" font-family='"Liberation Sans", sans-serif' fill="#000">-0.4</text>
<line x1="49.7" y1="301.44" x2="54.7" y2="301.44" stroke="#000" stroke-width="1.1"/>
<text x="45.8" y="305.54" font-size="8.8" text-anchor="end" font-weight="normal" font-family='"Liberation Sans", sans-serif' fill="#000">-0.6</text>
<line x1="49.7" y1="326.46" x2="54.7" y2="326.46" stroke="#000" stroke-width="1.1"/>
<text x="45.8" y="330.56" font-size="8.8" text-anchor="end" font-weight="normal" font-family='"Liberation Sans", sans-serif' fill="#000">-0.8</text>
<text x="45.8" y="355.2" font-size="8.8" text-anchor="end" font-weight="normal" font-family='"Liberation Sans", sans-serif' fill="#000">-1.0</text>
<line x1="80.07" y1="351.6" x2="80.07" y2="347.6" stroke="#000" stroke-width="1.1"/>
<line x1="110.44" y1="351.6" x2="110.44" y2="347.6" stroke="#000" stroke-width="1.1"/>
<line x1="140.81" y1="351.6" x2="140.81" y2="347.6" stroke="#000" stroke-width="1.1"/>
<text x="49.7" y="364.3" font-size="8.8" text-anchor="middle" font-weight="normal" font-family='"Liberation Sans", sans-serif' fill="#000">-0.5</text>
<text x="141" y="364.3" font-size="8.8" text-anchor="middle" font-weight="normal" font-family='"Liberation Sans", sans-serif' fill="#000">-0.2</text>
<text x="106" y="377.5" font-size="11.5" text-anchor="middle" font-family='"Liberation Sans", sans-serif' fill="#000"><tspan font-style="italic">k</tspan><tspan font-size="6.8999999999999995" dy="1.5" font-style="italic">y</tspan><tspan dy="-1.5"> (Å</tspan><tspan font-size="6.8999999999999995" dy="-3.5">−1</tspan><tspan dy="3.5">)</tspan></text>
<text transform="translate(24.6,296.3) rotate(-90)" font-size="11.6" text-anchor="middle" font-family='"Liberation Sans", sans-serif' fill="#000"><tspan font-style="italic">E</tspan> - <tspan font-style="italic">E</tspan><tspan font-size="6.96" dy="1.5">F</tspan><tspan dy="-1.5"> (eV)</tspan></text>
<text x="56.2" y="239.5" font-size="10.8" text-anchor="middle" font-family='"Liberation Serif", serif' fill="#000">Σ<tspan font-size="5.4" dy="3" font-family='"Liberation Sans", sans-serif'>1</tspan></text>
<line x1="71.5" y1="236.3" x2="138.5" y2="236.3" stroke="#222" stroke-width="0.8"/>
<path d="M68.5,236.3 L73.5,234.3 L72.5,236.3 L73.5,238.3Z" fill="#000"/>
<path d="M141.5,236.3 L136.5,234.3 L137.5,236.3 L136.5,238.3Z" fill="#000"/>
<text x="153.5" y="239.9" font-size="11.3" text-anchor="middle" font-weight="normal" font-family='"Liberation Sans", sans-serif' fill="#000">Z</text>
<text x="4.5" y="398.5" font-size="13.2" text-anchor="start" font-weight="bold" font-family='"Liberation Sans", sans-serif' fill="#000">f</text>
<path d="M59.2,520.8C60.57,518.4 64.67,510.63 67.4,506.4C70.13,502.17 72.87,498.6 75.6,495.4C78.33,492.2 80.6,490.17 83.8,487.2C87,484.23 90.68,480.8 94.8,477.6C98.92,474.4 103.93,470.42 108.5,468C113.07,465.58 117.63,464.23 122.2,463.1C126.77,461.97 131.33,461.43 135.9,461.2C140.47,460.97 146.33,461.48 149.6,461.7C152.87,461.92 154.52,462.37 155.5,462.5" stroke="#000" stroke-width="1.1" fill="none"/>
<line x1="55.1" y1="520.8" x2="85.2" y2="414.9" stroke="#000" stroke-width="1.1"/>
<line x1="88" y1="414.9" x2="119.5" y2="520.8" stroke="#000" stroke-width="1.1"/>
<line x1="118.1" y1="414.9" x2="67.4" y2="520.8" stroke="#000" stroke-width="1.1"/>
<line x1="93.4" y1="431.8" x2="110.7" y2="489.9" stroke="#22a8e2" stroke-width="3.4"/>
<line x1="111.8" y1="430.2" x2="83.8" y2="487.2" stroke="#22a8e2" stroke-width="3.4"/>
<rect x="49.9" y="414.9" width="105.6" height="105.9" stroke="#000" stroke-width="1.2" fill="none"/>
<line x1="49.9" y1="420.7" x2="54.9" y2="420.7" stroke="#000" stroke-width="1.1"/>
<text x="45.8" y="424.8" font-size="8.8" text-anchor="end" font-weight="normal" font-family='"Liberation Sans", sans-serif' fill="#000">-0.2</text>
<line x1="49.9" y1="445.72" x2="54.9" y2="445.72" stroke="#000" stroke-width="1.1"/>
<text x="45.8" y="449.82" font-size="8.8" text-anchor="end" font-weight="normal" font-family='"Liberation Sans", sans-serif' fill="#000">-0.4</text>
<line x1="49.9" y1="470.74" x2="54.9" y2="470.74" stroke="#000" stroke-width="1.1"/>
<text x="45.8" y="474.84" font-size="8.8" text-anchor="end" font-weight="normal" font-family='"Liberation Sans", sans-serif' fill="#000">-0.6</text>
<line x1="49.9" y1="495.76" x2="54.9" y2="495.76" stroke="#000" stroke-width="1.1"/>
<text x="45.8" y="499.86" font-size="8.8" text-anchor="end" font-weight="normal" font-family='"Liberation Sans", sans-serif' fill="#000">-0.8</text>
<text x="45.8" y="524.4" font-size="8.8" text-anchor="end" font-weight="normal" font-family='"Liberation Sans", sans-serif' fill="#000">-1.0</text>
<line x1="80.07" y1="520.8" x2="80.07" y2="516.8" stroke="#000" stroke-width="1.1"/>
<line x1="110.44" y1="520.8" x2="110.44" y2="516.8" stroke="#000" stroke-width="1.1"/>
<line x1="140.81" y1="520.8" x2="140.81" y2="516.8" stroke="#000" stroke-width="1.1"/>
<text x="50.5" y="533" font-size="8.8" text-anchor="middle" font-weight="normal" font-family='"Liberation Sans", sans-serif' fill="#000">-0.5</text>
<text x="142" y="533" font-size="8.8" text-anchor="middle" font-weight="normal" font-family='"Liberation Sans", sans-serif' fill="#000">-0.2</text>
<text x="106" y="545" font-size="11.5" text-anchor="middle" font-family='"Liberation Sans", sans-serif' fill="#000"><tspan font-style="italic">k</tspan><tspan font-size="6.8999999999999995" dy="1.5" font-style="italic">//</tspan><tspan dy="-1.5"> (Å</tspan><tspan font-size="6.8999999999999995" dy="-3.5">−1</tspan><tspan dy="3.5">)</tspan></text>
<text transform="translate(24.3,467.3) rotate(-90)" font-size="11.6" text-anchor="middle" font-family='"Liberation Sans", sans-serif' fill="#000"><tspan font-style="italic">E</tspan> - <tspan font-style="italic">E</tspan><tspan font-size="6.96" dy="1.5">F</tspan><tspan dy="-1.5"> (eV)</tspan></text>
<text x="58.4" y="408.8" font-size="11.3" text-anchor="middle" font-family='"Liberation Sans", sans-serif' fill="#000">Y<tspan font-size="6.3" dy="3">1</tspan></text>
<line x1="71.5" y1="404.3" x2="138.5" y2="404.3" stroke="#222" stroke-width="0.8"/>
<path d="M68.5,404.3 L73.5,402.3 L72.5,404.3 L73.5,406.3Z" fill="#000"/>
<path d="M141.5,404.3 L136.5,402.3 L137.5,404.3 L136.5,406.3Z" fill="#000"/>
<text x="153.5" y="408.5" font-size="11.3" text-anchor="middle" font-weight="normal" font-family='"Liberation Sans", sans-serif' fill="#000">Z</text>
<defs>
<clipPath id="clipd"><rect x="202.5" y="246" width="106" height="106.2"/></clipPath>
<clipPath id="clipg"><rect x="202.5" y="415.5" width="106" height="105.8"/></clipPath>
<filter id="bl1" x="-50%" y="-50%" width="200%" height="200%"><feGaussianBlur stdDeviation="1.2"/></filter>
<filter id="bl2" x="-50%" y="-50%" width="200%" height="200%"><feGaussianBlur stdDeviation="2"/></filter>
<filter id="bl3" x="-50%" y="-50%" width="200%" height="200%"><feGaussianBlur stdDeviation="3"/></filter>
</defs>
<text x="166.3" y="227.6" font-size="13.2" text-anchor="start" font-weight="bold" font-family='"Liberation Sans", sans-serif' fill="#000">d</text>
<g clip-path="url(#clipd)">
<linearGradient id="gdl" gradientUnits="userSpaceOnUse" x1="207" y1="252" x2="262" y2="293"><stop offset="0" stop-color="#000" stop-opacity="0.4"/><stop offset="0.3" stop-color="#000" stop-opacity="0.6"/><stop offset="1" stop-color="#000" stop-opacity="0.7"/></linearGradient>
<linearGradient id="gdr" gradientUnits="userSpaceOnUse" x1="306" y1="250" x2="270" y2="291"><stop offset="0" stop-color="#000" stop-opacity="0.55"/><stop offset="0.5" stop-color="#000" stop-opacity="0.6"/><stop offset="1" stop-color="#000" stop-opacity="0.65"/></linearGradient>
<g filter="url(#bl2)">
<path d="M207,251C208.17,252.17 211.5,255.58 214,258C216.5,260.42 218.9,262.92 222,265.5C225.1,268.08 228.73,270.88 232.6,273.5C236.47,276.12 241.43,278.87 245.2,281.2C248.97,283.53 252.27,285.62 255.2,287.5C258.13,289.38 261.53,291.67 262.8,292.5" stroke="url(#gdl)" stroke-width="8.5" fill="none" stroke-linecap="round"/>
<path d="M222.6,260.8C224.83,261.25 231.4,262.47 236,263.5C240.6,264.53 247.83,266.42 250.2,267" stroke="#000" stroke-width="4" fill="none" stroke-opacity="0.14" stroke-linecap="round"/>
<path d="M307,249.5C305.83,250.58 302.5,253.5 300,256C297.5,258.5 294.67,261.67 292,264.5C289.33,267.33 286.5,270.08 284,273C281.5,275.92 279.17,279.17 277,282C274.83,284.83 272,288.67 271,290" stroke="url(#gdr)" stroke-width="9.5" fill="none" stroke-linecap="round"/>
<path d="M262,308C260.33,309.67 255.33,314.5 252,318C248.67,321.5 245.33,325.33 242,329C238.67,332.67 234.67,336.83 232,340C229.33,343.17 227,346.67 226,348" stroke="#000" stroke-width="13" fill="none" stroke-opacity="0.27" stroke-linecap="round"/>
<path d="M258,312C256.33,313.83 251.33,319.33 248,323C244.67,326.67 239.67,332.17 238,334" stroke="#000" stroke-width="6" fill="none" stroke-opacity="0.12" stroke-linecap="round"/>
<path d="M272,325C273.67,325.83 278.67,328.17 282,330C285.33,331.83 290.33,335 292,336" stroke="#000" stroke-width="4" fill="none" stroke-opacity="0.08" stroke-linecap="round"/>
<ellipse cx="265.5" cy="299" rx="19" ry="10" fill="#000" fill-opacity="0.42"/>
<ellipse cx="267" cy="308.5" rx="17" ry="6" fill="#000" fill-opacity="0.18"/>
</g>
<ellipse cx="265.5" cy="296.8" rx="13.5" ry="6" fill="#000" fill-opacity="0.72" filter="url(#bl2)"/>
<ellipse cx="264" cy="293.5" rx="8" ry="2" fill="#000" fill-opacity="0.7" filter="url(#bl1)"/>
<ellipse cx="268" cy="299.5" rx="7" ry="2.2" fill="#000" fill-opacity="0.75" filter="url(#bl1)"/>
</g>
<rect x="202.5" y="246.1" width="106" height="106.1" stroke="#000" stroke-width="1.2" fill="none"/>
<line x1="202.9" y1="279.4" x2="223.8" y2="279.4" stroke="#1414ff" stroke-width="1.2"/>
<path d="M218.8,277.8 L226.8,279.4 L218.8,281Z" fill="#1414ff"/>
<line x1="202.9" y1="282.73" x2="223.8" y2="282.73" stroke="#1414ff" stroke-width="1.2"/>
<path d="M218.8,281.13 L226.8,282.73 L218.8,284.33Z" fill="#1414ff"/>
<line x1="202.9" y1="286.06" x2="223.8" y2="286.06" stroke="#1414ff" stroke-width="1.2"/>
<path d="M218.8,284.46 L226.8,286.06 L218.8,287.66Z" fill="#1414ff"/>
<line x1="202.9" y1="289.39" x2="223.8" y2="289.39" stroke="#1414ff" stroke-width="1.2"/>
<path d="M218.8,287.79 L226.8,289.39 L218.8,290.99Z" fill="#1414ff"/>
<line x1="202.9" y1="292.72" x2="223.8" y2="292.72" stroke="#1414ff" stroke-width="1.2"/>
<path d="M218.8,291.12 L226.8,292.72 L218.8,294.32Z" fill="#1414ff"/>
<line x1="202.9" y1="296.05" x2="223.8" y2="296.05" stroke="#1414ff" stroke-width="1.2"/>
<path d="M218.8,294.45 L226.8,296.05 L218.8,297.65Z" fill="#1414ff"/>
<line x1="202.9" y1="299.38" x2="223.8" y2="299.38" stroke="#1414ff" stroke-width="1.2"/>
<path d="M218.8,297.78 L226.8,299.38 L218.8,300.98Z" fill="#1414ff"/>
<line x1="202.9" y1="302.71" x2="223.8" y2="302.71" stroke="#1414ff" stroke-width="1.2"/>
<path d="M218.8,301.11 L226.8,302.71 L218.8,304.31Z" fill="#1414ff"/>
<line x1="202.9" y1="306.04" x2="223.8" y2="306.04" stroke="#1414ff" stroke-width="1.2"/>
<path d="M218.8,304.44 L226.8,306.04 L218.8,307.64Z" fill="#1414ff"/>
<line x1="202.9" y1="309.37" x2="223.8" y2="309.37" stroke="#1414ff" stroke-width="1.2"/>
<path d="M218.8,307.77 L226.8,309.37 L218.8,310.97Z" fill="#1414ff"/>
<line x1="202.9" y1="312.7" x2="223.8" y2="312.7" stroke="#1414ff" stroke-width="1.2"/>
<path d="M218.8,311.1 L226.8,312.7 L218.8,314.3Z" fill="#1414ff"/>
<line x1="202.5" y1="272.62" x2="207.5" y2="272.62" stroke="#000" stroke-width="1.1"/>
<text x="199" y="275.62" font-size="8.8" text-anchor="end" font-weight="normal" font-family='"Liberation Sans", sans-serif' fill="#000">-0.2</text>
<line x1="202.5" y1="299.14" x2="207.5" y2="299.14" stroke="#000" stroke-width="1.1"/>
<text x="199" y="302.14" font-size="8.8" text-anchor="end" font-weight="normal" font-family='"Liberation Sans", sans-serif' fill="#000">-0.4</text>
<line x1="202.5" y1="325.66" x2="207.5" y2="325.66" stroke="#000" stroke-width="1.1"/>
<text x="199" y="328.66" font-size="8.8" text-anchor="end" font-weight="normal" font-family='"Liberation Sans", sans-serif' fill="#000">-0.6</text>
<text x="199" y="249.1" font-size="8.8" text-anchor="end" font-weight="normal" font-family='"Liberation Sans", sans-serif' fill="#000">0.0</text>
<text x="199" y="355.2" font-size="8.8" text-anchor="end" font-weight="normal" font-family='"Liberation Sans", sans-serif' fill="#000">-0.8</text>
<line x1="232.6" y1="352.2" x2="232.6" y2="348.2" stroke="#000" stroke-width="1.1"/>
<line x1="262.8" y1="352.2" x2="262.8" y2="348.2" stroke="#000" stroke-width="1.1"/>
<line x1="293.6" y1="352.2" x2="293.6" y2="348.2" stroke="#000" stroke-width="1.1"/>
<text x="202.3" y="364.5" font-size="8.8" text-anchor="middle" font-weight="normal" font-family='"Liberation Sans", sans-serif' fill="#000">-0.5</text>
<text x="293.5" y="364.5" font-size="8.8" text-anchor="middle" font-weight="normal" font-family='"Liberation Sans", sans-serif' fill="#000">-0.2</text>
<text x="257" y="377.8" font-size="11.5" text-anchor="middle" font-family='"Liberation Sans", sans-serif' fill="#000"><tspan font-style="italic">k</tspan><tspan font-size="6.8999999999999995" dy="1.5" font-style="italic">y</tspan><tspan dy="-1.5"> (Å</tspan><tspan font-size="6.8999999999999995" dy="-3.5">−1</tspan><tspan dy="3.5">)</tspan></text>
<text transform="translate(176.5,295.3) rotate(-90)" font-size="11.6" text-anchor="middle" font-family='"Liberation Sans", sans-serif' fill="#000"><tspan font-style="italic">E</tspan> - <tspan font-style="italic">E</tspan><tspan font-size="6.96" dy="1.5">F</tspan><tspan dy="-1.5"> (eV)</tspan></text>
<text x="208" y="239.8" font-size="10.8" text-anchor="middle" font-family='"Liberation Serif", serif' fill="#000">Σ<tspan font-size="5.4" dy="3" font-family='"Liberation Sans", sans-serif'>1</tspan></text>
<line x1="222.5" y1="236.3" x2="288.5" y2="236.3" stroke="#222" stroke-width="0.8"/>
<path d="M219.5,236.3 L224.5,234.3 L223.5,236.3 L224.5,238.3Z" fill="#000"/>
<path d="M291.5,236.3 L286.5,234.3 L287.5,236.3 L286.5,238.3Z" fill="#000"/>
<text x="302.6" y="239.9" font-size="11.3" text-anchor="middle" font-weight="normal" font-family='"Liberation Sans", sans-serif' fill="#000">Z</text>
<text x="167.9" y="398.6" font-size="13.2" text-anchor="start" font-weight="bold" font-family='"Liberation Sans", sans-serif' fill="#000">g</text>
<g clip-path="url(#clipg)">
<linearGradient id="ggd" gradientUnits="userSpaceOnUse" x1="205" y1="520" x2="262" y2="467"><stop offset="0" stop-color="#000" stop-opacity="0.92"/><stop offset="0.25" stop-color="#000" stop-opacity="0.78"/><stop offset="0.6" stop-color="#000" stop-opacity="0.5"/><stop offset="1" stop-color="#000" stop-opacity="0.3"/></linearGradient>
<g filter="url(#bl2)">
<path d="M244,413 L303,413 L301,421 L296,428 L290,434 L283,440 L258,440 L253,431 L247,422Z" fill="#000" fill-opacity="0.42"/>
<path d="M252,424 L296,424 L288,432 L262,432Z" fill="#000" fill-opacity="0.12"/>
<ellipse cx="273" cy="417" rx="23" ry="3" fill="#000" fill-opacity="0.4"/>
<ellipse cx="276" cy="426" rx="14" ry="3" fill="#000" fill-opacity="0.15"/>
<rect x="259" y="434" width="18" height="31" rx="5" fill="#000" fill-opacity="0.6"/>
<ellipse cx="268.5" cy="448" rx="5" ry="7" fill="#000" fill-opacity="0.35"/>
<ellipse cx="266.5" cy="459.5" rx="6" ry="3.5" fill="#000" fill-opacity="0.3"/>
<path d="M203,523C204.17,521.67 207.17,518 210,515C212.83,512 216.33,508.67 220,505C223.67,501.33 228,497 232,493C236,489 240.33,484.5 244,481C247.67,477.5 251,474.67 254,472C257,469.33 260.67,466.17 262,465" stroke="url(#ggd)" stroke-width="12" fill="none" stroke-linecap="round"/>
<path d="M273,468C274,471.33 277.17,481.83 279,488C280.83,494.17 282.67,499.67 284,505C285.33,510.33 286.5,517.5 287,520" stroke="#000" stroke-width="10" fill="none" stroke-opacity="0.24" stroke-linecap="round"/>
<ellipse cx="231.5" cy="445.6" rx="3.5" ry="2" fill="#000" fill-opacity="0.18"/>
</g>
</g>
<rect x="202.5" y="415.6" width="106" height="105.9" stroke="#000" stroke-width="1.2" fill="none"/>
<line x1="202.4" y1="415.6" x2="223.9" y2="415.6" stroke="#1414ff" stroke-width="1.2"/>
<path d="M218.9,413.4 L226.9,415.6 L218.9,417.8Z" fill="#1414ff"/>
<line x1="202.4" y1="421.45" x2="223.9" y2="421.45" stroke="#1414ff" stroke-width="1.2"/>
<path d="M218.9,419.25 L226.9,421.45 L218.9,423.65Z" fill="#1414ff"/>
<line x1="202.4" y1="427.3" x2="223.9" y2="427.3" stroke="#1414ff" stroke-width="1.2"/>
<path d="M218.9,425.1 L226.9,427.3 L218.9,429.5Z" fill="#1414ff"/>
<line x1="202.4" y1="433.15" x2="223.9" y2="433.15" stroke="#1414ff" stroke-width="1.2"/>
<path d="M218.9,430.95 L226.9,433.15 L218.9,435.35Z" fill="#1414ff"/>
<line x1="202.4" y1="439" x2="223.9" y2="439" stroke="#1414ff" stroke-width="1.2"/>
<path d="M218.9,436.8 L226.9,439 L218.9,441.2Z" fill="#1414ff"/>
<line x1="202.4" y1="444.85" x2="223.9" y2="444.85" stroke="#1414ff" stroke-width="1.2"/>
<path d="M218.9,442.65 L226.9,444.85 L218.9,447.05Z" fill="#1414ff"/>
<line x1="202.4" y1="450.7" x2="223.9" y2="450.7" stroke="#1414ff" stroke-width="1.2"/>
<path d="M218.9,448.5 L226.9,450.7 L218.9,452.9Z" fill="#1414ff"/>
<line x1="202.4" y1="456.55" x2="223.9" y2="456.55" stroke="#1414ff" stroke-width="1.2"/>
<path d="M218.9,454.35 L226.9,456.55 L218.9,458.75Z" fill="#1414ff"/>
<line x1="202.4" y1="462.4" x2="223.9" y2="462.4" stroke="#1414ff" stroke-width="1.2"/>
<path d="M218.9,460.2 L226.9,462.4 L218.9,464.6Z" fill="#1414ff"/>
<line x1="202.4" y1="468.25" x2="223.9" y2="468.25" stroke="#1414ff" stroke-width="1.2"/>
<path d="M218.9,466.05 L226.9,468.25 L218.9,470.45Z" fill="#1414ff"/>
<line x1="202.4" y1="474.1" x2="223.9" y2="474.1" stroke="#1414ff" stroke-width="1.2"/>
<path d="M218.9,471.9 L226.9,474.1 L218.9,476.3Z" fill="#1414ff"/>
<line x1="202.4" y1="479.95" x2="223.9" y2="479.95" stroke="#1414ff" stroke-width="1.2"/>
<path d="M218.9,477.75 L226.9,479.95 L218.9,482.15Z" fill="#1414ff"/>
<line x1="202.4" y1="485.8" x2="223.9" y2="485.8" stroke="#1414ff" stroke-width="1.2"/>
<path d="M218.9,483.6 L226.9,485.8 L218.9,488Z" fill="#1414ff"/>
<line x1="202.5" y1="438.96" x2="207.5" y2="438.96" stroke="#000" stroke-width="1.1"/>
<text x="199" y="441.96" font-size="8.8" text-anchor="end" font-weight="normal" font-family='"Liberation Sans", sans-serif' fill="#000">-0.2</text>
<line x1="202.5" y1="462.32" x2="207.5" y2="462.32" stroke="#000" stroke-width="1.1"/>
<text x="199" y="465.32" font-size="8.8" text-anchor="end" font-weight="normal" font-family='"Liberation Sans", sans-serif' fill="#000">-0.4</text>
<line x1="202.5" y1="485.68" x2="207.5" y2="485.68" stroke="#000" stroke-width="1.1"/>
<text x="199" y="488.68" font-size="8.8" text-anchor="end" font-weight="normal" font-family='"Liberation Sans", sans-serif' fill="#000">-0.6</text>
<line x1="202.5" y1="509.04" x2="207.5" y2="509.04" stroke="#000" stroke-width="1.1"/>
<text x="199" y="512.04" font-size="8.8" text-anchor="end" font-weight="normal" font-family='"Liberation Sans", sans-serif' fill="#000">-0.8</text>
<text x="199" y="418.6" font-size="8.8" text-anchor="end" font-weight="normal" font-family='"Liberation Sans", sans-serif' fill="#000">0.0</text>
<line x1="232.6" y1="521.5" x2="232.6" y2="517.5" stroke="#000" stroke-width="1.1"/>
<line x1="262.8" y1="521.5" x2="262.8" y2="517.5" stroke="#000" stroke-width="1.1"/>
<line x1="293.6" y1="521.5" x2="293.6" y2="517.5" stroke="#000" stroke-width="1.1"/>
<text x="203" y="533.3" font-size="8.8" text-anchor="middle" font-weight="normal" font-family='"Liberation Sans", sans-serif' fill="#000">-0.5</text>
<text x="293.5" y="533.3" font-size="8.8" text-anchor="middle" font-weight="normal" font-family='"Liberation Sans", sans-serif' fill="#000">-0.2</text>
<text x="257" y="545" font-size="11.5" text-anchor="middle" font-family='"Liberation Sans", sans-serif' fill="#000"><tspan font-style="italic">k</tspan><tspan font-size="6.8999999999999995" dy="1.5" font-style="italic">//</tspan><tspan dy="-1.5"> (Å</tspan><tspan font-size="6.8999999999999995" dy="-3.5">−1</tspan><tspan dy="3.5">)</tspan></text>
<text transform="translate(176.5,467.3) rotate(-90)" font-size="11.6" text-anchor="middle" font-family='"Liberation Sans", sans-serif' fill="#000"><tspan font-style="italic">E</tspan> - <tspan font-style="italic">E</tspan><tspan font-size="6.96" dy="1.5">F</tspan><tspan dy="-1.5"> (eV)</tspan></text>
<text x="208.5" y="408.8" font-size="11.3" text-anchor="middle" font-family='"Liberation Sans", sans-serif' fill="#000">Y<tspan font-size="6.3" dy="3">1</tspan></text>
<line x1="222.5" y1="404.3" x2="288.5" y2="404.3" stroke="#222" stroke-width="0.8"/>
<path d="M219.5,404.3 L224.5,402.3 L223.5,404.3 L224.5,406.3Z" fill="#000"/>
<path d="M291.5,404.3 L286.5,402.3 L287.5,404.3 L286.5,406.3Z" fill="#000"/>
<text x="302.6" y="408.5" font-size="11.3" text-anchor="middle" font-weight="normal" font-family='"Liberation Sans", sans-serif' fill="#000">Z</text>
<text x="317.8" y="227.4" font-size="13.2" text-anchor="start" font-weight="bold" font-family='"Liberation Sans", sans-serif' fill="#000">e</text>
<clipPath id="clipe"><rect x="342.5" y="243.9" width="53" height="106"/></clipPath>
<g clip-path="url(#clipe)">
<path d="M342.5,256.5 L343.4,256.16 L344.3,255.75 L345.19,255.26 L346.09,254.69 L346.99,254.03 L347.89,253.29 L348.79,252.48 L349.69,251.66 L350.58,250.87 L351.48,250.22 L352.38,249.77 L353.28,249.6 L354.18,249.73 L355.08,250.09 L355.97,250.62 L356.87,251.22 L357.77,251.82 L358.67,252.35 L359.57,252.8 L360.47,253.14 L361.36,253.38 L362.26,253.52 L363.16,253.57 L364.06,253.53 L364.96,253.4 L365.86,253.21 L366.75,252.95 L367.65,252.63 L368.55,252.27 L369.45,251.86 L370.35,251.42 L371.25,250.95 L372.14,250.47 L373.04,249.99 L373.94,249.53 L374.84,249.09 L375.74,248.71 L376.64,248.39 L377.53,248.15 L378.43,248.01 L379.33,247.97 L380.23,248.05 L381.13,248.26 L382.03,248.58 L382.92,249.02 L383.82,249.57 L384.72,250.22 L385.62,250.95 L386.52,251.75 L387.42,252.6 L388.31,253.48 L389.21,254.39 L390.11,255.3 L391.01,256.21 L391.91,257.12 L392.81,258 L393.7,258.86 L394.6,259.7 L395.5,260.5" stroke="#000" stroke-width="1.35" fill="none"/>
<path d="M342.5,271.5 L343.4,271.17 L344.3,270.79 L345.19,270.37 L346.09,269.89 L346.99,269.34 L347.89,268.71 L348.79,268 L349.69,267.18 L350.58,266.24 L351.48,265.18 L352.38,263.99 L353.28,262.68 L354.18,261.28 L355.08,259.85 L355.97,258.49 L356.87,257.34 L357.77,256.5 L358.67,256.09 L359.57,256.11 L360.47,256.5 L361.36,257.14 L362.26,257.9 L363.16,258.65 L364.06,259.31 L364.96,259.84 L365.86,260.21 L366.75,260.43 L367.65,260.5 L368.55,260.44 L369.45,260.29 L370.35,260.05 L371.25,259.77 L372.14,259.48 L373.04,259.21 L373.94,259 L374.84,258.88 L375.74,258.88 L376.64,259.02 L377.53,259.29 L378.43,259.7 L379.33,260.24 L380.23,260.87 L381.13,261.57 L382.03,262.32 L382.92,263.1 L383.82,263.87 L384.72,264.63 L385.62,265.35 L386.52,266.05 L387.42,266.7 L388.31,267.3 L389.21,267.86 L390.11,268.38 L391.01,268.86 L391.91,269.29 L392.81,269.69 L393.7,270.06 L394.6,270.39 L395.5,270.7" stroke="#000" stroke-width="1.35" fill="none"/>
<path d="M342.5,286 L343.4,285.22 L344.3,284.37 L345.19,283.43 L346.09,282.4 L346.99,281.27 L347.89,280.03 L348.79,278.68 L349.69,277.22 L350.58,275.67 L351.48,274.07 L352.38,272.46 L353.28,270.9 L354.18,269.5 L355.08,268.33 L355.97,267.47 L356.87,266.96 L357.77,266.77 L358.67,266.86 L359.57,267.14 L360.47,267.53 L361.36,267.94 L362.26,268.32 L363.16,268.63 L364.06,268.85 L364.96,268.97 L365.86,269.01 L366.75,268.98 L367.65,268.9 L368.55,268.8 L369.45,268.7 L370.35,268.62 L371.25,268.58 L372.14,268.6 L373.04,268.7 L373.94,268.89 L374.84,269.16 L375.74,269.51 L376.64,269.94 L377.53,270.44 L378.43,270.99 L379.33,271.59 L380.23,272.21 L381.13,272.85 L382.03,273.49 L382.92,274.12 L383.82,274.73 L384.72,275.33 L385.62,275.89 L386.52,276.43 L387.42,276.93 L388.31,277.4 L389.21,277.83 L390.11,278.23 L391.01,278.6 L391.91,278.94 L392.81,279.24 L393.7,279.52 L394.6,279.77 L395.5,280" stroke="#000" stroke-width="1.35" fill="none"/>
<path d="M342.5,297.6 L343.4,296.9 L344.3,296.16 L345.19,295.36 L346.09,294.51 L346.99,293.59 L347.89,292.6 L348.79,291.54 L349.69,290.42 L350.58,289.23 L351.48,287.98 L352.38,286.69 L353.28,285.38 L354.18,284.07 L355.08,282.81 L355.97,281.63 L356.87,280.56 L357.77,279.63 L358.67,278.86 L359.57,278.24 L360.47,277.75 L361.36,277.37 L362.26,277.06 L363.16,276.8 L364.06,276.55 L364.96,276.3 L365.86,276.05 L366.75,275.8 L367.65,275.56 L368.55,275.36 L369.45,275.22 L370.35,275.15 L371.25,275.17 L372.14,275.3 L373.04,275.54 L373.94,275.9 L374.84,276.37 L375.74,276.93 L376.64,277.58 L377.53,278.28 L378.43,279.02 L379.33,279.79 L380.23,280.56 L381.13,281.33 L382.03,282.07 L382.92,282.78 L383.82,283.46 L384.72,284.09 L385.62,284.68 L386.52,285.23 L387.42,285.73 L388.31,286.18 L389.21,286.6 L390.11,286.97 L391.01,287.31 L391.91,287.61 L392.81,287.88 L393.7,288.11 L394.6,288.32 L395.5,288.5" stroke="#000" stroke-width="1.35" fill="none"/>
<path d="M342.5,308.71 L343.4,307.82 L344.3,306.89 L345.19,305.93 L346.09,304.94 L346.99,303.92 L347.89,302.86 L348.79,301.78 L349.69,300.66 L350.58,299.51 L351.48,298.34 L352.38,297.15 L353.28,295.95 L354.18,294.73 L355.08,293.51 L355.97,292.29 L356.87,291.09 L357.77,289.92 L358.67,288.78 L359.57,287.69 L360.47,286.66 L361.36,285.71 L362.26,284.84 L363.16,284.08 L364.06,283.41 L364.96,282.87 L365.86,282.44 L366.75,282.14 L367.65,281.95 L368.55,281.89 L369.45,281.93 L370.35,282.08 L371.25,282.32 L372.14,282.64 L373.04,283.03 L373.94,283.48 L374.84,283.99 L375.74,284.55 L376.64,285.17 L377.53,285.85 L378.43,286.59 L379.33,287.39 L380.23,288.23 L381.13,289.08 L382.03,289.92 L382.92,290.74 L383.82,291.53 L384.72,292.28 L385.62,292.98 L386.52,293.63 L387.42,294.25 L388.31,294.81 L389.21,295.34 L390.11,295.83 L391.01,296.28 L391.91,296.69 L392.81,297.07 L393.7,297.41 L394.6,297.73 L395.5,298.02" stroke="#000" stroke-width="1.35" fill="none"/>
<path d="M342.5,316.81 L343.4,316.25 L344.3,315.67 L345.19,315.06 L346.09,314.42 L346.99,313.74 L347.89,313.04 L348.79,312.3 L349.69,311.52 L350.58,310.71 L351.48,309.86 L352.38,308.98 L353.28,308.06 L354.18,307.1 L355.08,306.1 L355.97,305.07 L356.87,304.01 L357.77,302.92 L358.67,301.8 L359.57,300.66 L360.47,299.5 L361.36,298.34 L362.26,297.16 L363.16,296 L364.06,294.86 L364.96,293.74 L365.86,292.69 L366.75,291.71 L367.65,290.86 L368.55,290.17 L369.45,289.68 L370.35,289.44 L371.25,289.43 L372.14,289.65 L373.04,290.08 L373.94,290.66 L374.84,291.36 L375.74,292.15 L376.64,293.02 L377.53,293.94 L378.43,294.9 L379.33,295.89 L380.23,296.9 L381.13,297.92 L382.03,298.94 L382.92,299.95 L383.82,300.96 L384.72,301.94 L385.62,302.9 L386.52,303.83 L387.42,304.73 L388.31,305.6 L389.21,306.43 L390.11,307.23 L391.01,308 L391.91,308.72 L392.81,309.42 L393.7,310.07 L394.6,310.7 L395.5,311.29" stroke="#000" stroke-width="2.3" fill="none"/>
<path d="M342.5,322.8 L343.4,322.27 L344.3,321.71 L345.19,321.12 L346.09,320.48 L346.99,319.81 L347.89,319.09 L348.79,318.33 L349.69,317.51 L350.58,316.64 L351.48,315.71 L352.38,314.73 L353.28,313.7 L354.18,312.6 L355.08,311.46 L355.97,310.28 L356.87,309.07 L357.77,307.84 L358.67,306.61 L359.57,305.4 L360.47,304.25 L361.36,303.16 L362.26,302.18 L363.16,301.3 L364.06,300.55 L364.96,299.93 L365.86,299.44 L366.75,299.07 L367.65,298.79 L368.55,298.61 L369.45,298.51 L370.35,298.48 L371.25,298.51 L372.14,298.61 L373.04,298.78 L373.94,299.03 L374.84,299.37 L375.74,299.8 L376.64,300.32 L377.53,300.93 L378.43,301.63 L379.33,302.39 L380.23,303.2 L381.13,304.06 L382.03,304.93 L382.92,305.8 L383.82,306.67 L384.72,307.51 L385.62,308.32 L386.52,309.09 L387.42,309.81 L388.31,310.5 L389.21,311.13 L390.11,311.72 L391.01,312.26 L391.91,312.75 L392.81,313.2 L393.7,313.62 L394.6,313.99 L395.5,314.33" stroke="#000" stroke-width="1.35" fill="none"/>
<path d="M342.5,328.03 L343.4,327.68 L344.3,327.31 L345.19,326.91 L346.09,326.49 L346.99,326.04 L347.89,325.56 L348.79,325.04 L349.69,324.49 L350.58,323.89 L351.48,323.24 L352.38,322.54 L353.28,321.78 L354.18,320.96 L355.08,320.06 L355.97,319.1 L356.87,318.06 L357.77,316.95 L358.67,315.8 L359.57,314.61 L360.47,313.44 L361.36,312.31 L362.26,311.27 L363.16,310.36 L364.06,309.58 L364.96,308.93 L365.86,308.4 L366.75,307.96 L367.65,307.59 L368.55,307.3 L369.45,307.07 L370.35,306.93 L371.25,306.87 L372.14,306.92 L373.04,307.09 L373.94,307.37 L374.84,307.77 L375.74,308.27 L376.64,308.85 L377.53,309.51 L378.43,310.23 L379.33,310.97 L380.23,311.73 L381.13,312.48 L382.03,313.23 L382.92,313.94 L383.82,314.63 L384.72,315.28 L385.62,315.89 L386.52,316.45 L387.42,316.98 L388.31,317.46 L389.21,317.9 L390.11,318.31 L391.01,318.68 L391.91,319.01 L392.81,319.31 L393.7,319.58 L394.6,319.83 L395.5,320.04" stroke="#000" stroke-width="1.35" fill="none"/>
<path d="M342.5,333.8 L343.4,333.56 L344.3,333.3 L345.19,333.03 L346.09,332.75 L346.99,332.44 L347.89,332.11 L348.79,331.75 L349.69,331.37 L350.58,330.95 L351.48,330.5 L352.38,330.02 L353.28,329.48 L354.18,328.9 L355.08,328.27 L355.97,327.58 L356.87,326.84 L357.77,326.03 L358.67,325.17 L359.57,324.25 L360.47,323.28 L361.36,322.3 L362.26,321.31 L363.16,320.34 L364.06,319.45 L364.96,318.65 L365.86,317.97 L366.75,317.44 L367.65,317.05 L368.55,316.8 L369.45,316.65 L370.35,316.6 L371.25,316.62 L372.14,316.7 L373.04,316.84 L373.94,317.03 L374.84,317.29 L375.74,317.62 L376.64,318.02 L377.53,318.49 L378.43,319.03 L379.33,319.63 L380.23,320.26 L381.13,320.92 L382.03,321.59 L382.92,322.25 L383.82,322.89 L384.72,323.51 L385.62,324.09 L386.52,324.63 L387.42,325.13 L388.31,325.6 L389.21,326.02 L390.11,326.4 L391.01,326.75 L391.91,327.07 L392.81,327.35 L393.7,327.6 L394.6,327.83 L395.5,328.03" stroke="#000" stroke-width="1.35" fill="none"/>
<path d="M342.5,342.62 L343.4,342.37 L344.3,342.09 L345.19,341.8 L346.09,341.48 L346.99,341.14 L347.89,340.78 L348.79,340.39 L349.69,339.97 L350.58,339.52 L351.48,339.04 L352.38,338.53 L353.28,337.98 L354.18,337.4 L355.08,336.78 L355.97,336.13 L356.87,335.44 L357.77,334.72 L358.67,333.97 L359.57,333.19 L360.47,332.4 L361.36,331.61 L362.26,330.82 L363.16,330.04 L364.06,329.3 L364.96,328.6 L365.86,327.97 L366.75,327.41 L367.65,326.94 L368.55,326.57 L369.45,326.3 L370.35,326.14 L371.25,326.08 L372.14,326.11 L373.04,326.24 L373.94,326.45 L374.84,326.74 L375.74,327.1 L376.64,327.51 L377.53,327.99 L378.43,328.51 L379.33,329.07 L380.23,329.67 L381.13,330.3 L382.03,330.95 L382.92,331.63 L383.82,332.31 L384.72,333 L385.62,333.69 L386.52,334.37 L387.42,335.04 L388.31,335.69 L389.21,336.32 L390.11,336.94 L391.01,337.53 L391.91,338.09 L392.81,338.63 L393.7,339.15 L394.6,339.63 L395.5,340.1" stroke="#000" stroke-width="1.35" fill="none"/>
</g>
<line x1="350.2" y1="248.5" x2="350.2" y2="257" stroke="#22a8e2" stroke-width="2.1" stroke-dasharray="4,1.5"/>
<line x1="379.8" y1="245.5" x2="379.8" y2="254" stroke="#22a8e2" stroke-width="2.1" stroke-dasharray="4,1.5"/>
<line x1="356" y1="257" x2="356" y2="265.5" stroke="#22a8e2" stroke-width="2.1" stroke-dasharray="4,1.5"/>
<line x1="378.4" y1="256.9" x2="378.4" y2="265.4" stroke="#22a8e2" stroke-width="2.1" stroke-dasharray="4,1.5"/>
<line x1="360" y1="265" x2="360" y2="273.5" stroke="#22a8e2" stroke-width="2.1" stroke-dasharray="4,1.5"/>
<line x1="377.4" y1="267.5" x2="377.4" y2="276" stroke="#22a8e2" stroke-width="2.1" stroke-dasharray="4,1.5"/>
<line x1="364.1" y1="273.5" x2="364.1" y2="282" stroke="#22a8e2" stroke-width="2.1" stroke-dasharray="4,1.5"/>
<line x1="376.3" y1="275" x2="376.3" y2="283.5" stroke="#22a8e2" stroke-width="2.1" stroke-dasharray="4,1.5"/>
<line x1="365.5" y1="280.3" x2="365.5" y2="288.8" stroke="#22a8e2" stroke-width="2.1" stroke-dasharray="4,1.5"/>
<line x1="372.3" y1="280.5" x2="372.3" y2="289" stroke="#22a8e2" stroke-width="2.1" stroke-dasharray="4,1.5"/>
<line x1="369.6" y1="287.5" x2="369.6" y2="296" stroke="#22a8e2" stroke-width="2.1" stroke-dasharray="4,1.5"/>
<line x1="367.7" y1="295.9" x2="367.7" y2="304.4" stroke="#22a8e2" stroke-width="2.1" stroke-dasharray="4,1.5"/>
<line x1="373.3" y1="296.8" x2="373.3" y2="305.3" stroke="#22a8e2" stroke-width="2.1" stroke-dasharray="4,1.5"/>
<line x1="366.6" y1="304.5" x2="366.6" y2="313" stroke="#22a8e2" stroke-width="2.1" stroke-dasharray="4,1.5"/>
<line x1="374.4" y1="306" x2="374.4" y2="314.5" stroke="#22a8e2" stroke-width="2.1" stroke-dasharray="4,1.5"/>
<line x1="362.9" y1="315.5" x2="362.9" y2="324" stroke="#22a8e2" stroke-width="2.1" stroke-dasharray="4,1.5"/>
<line x1="375.1" y1="315.1" x2="375.1" y2="323.6" stroke="#22a8e2" stroke-width="2.1" stroke-dasharray="4,1.5"/>
<line x1="361.5" y1="325.5" x2="361.5" y2="334" stroke="#22a8e2" stroke-width="2.1" stroke-dasharray="4,1.5"/>
<line x1="379" y1="326.3" x2="379" y2="334.8" stroke="#22a8e2" stroke-width="2.1" stroke-dasharray="4,1.5"/>
<rect x="342.5" y="243.9" width="53" height="106" stroke="#000" stroke-width="1.2" fill="none"/>
<line x1="347" y1="349.9" x2="347" y2="344.9" stroke="#000" stroke-width="1.1"/>
<line x1="347" y1="243.9" x2="347" y2="248.9" stroke="#000" stroke-width="1.1"/>
<line x1="366.4" y1="349.9" x2="366.4" y2="344.9" stroke="#000" stroke-width="1.1"/>
<line x1="366.4" y1="243.9" x2="366.4" y2="248.9" stroke="#000" stroke-width="1.1"/>
<line x1="385.8" y1="349.9" x2="385.8" y2="344.9" stroke="#000" stroke-width="1.1"/>
<line x1="385.8" y1="243.9" x2="385.8" y2="248.9" stroke="#000" stroke-width="1.1"/>
<line x1="395.5" y1="263.4" x2="399" y2="263.4" stroke="#000" stroke-width="0.9"/>
<line x1="395.5" y1="342" x2="399" y2="342" stroke="#000" stroke-width="0.9"/>
<text x="398.4" y="266.5" font-size="9.3" text-anchor="start" font-weight="normal" font-family='"Liberation Sans", sans-serif' fill="#000">–0.25 eV</text>
<text x="415.7" y="316" font-size="10.5" text-anchor="middle" font-weight="normal" font-family='"Liberation Sans", sans-serif' fill="#000">ED</text>
<text x="397.6" y="344.8" font-size="9.8" text-anchor="start" font-weight="normal" font-family='"Liberation Sans", sans-serif' fill="#000">–0.5 eV</text>
<line x1="415.4" y1="272" x2="415.4" y2="300" stroke="#000" stroke-width="0.9"/>
<path d="M415.4,303.8 L413.1,297.8 L415.4,299 L417.7,297.8Z" fill="#000"/>
<line x1="415.4" y1="320.2" x2="415.4" y2="330" stroke="#000" stroke-width="0.9"/>
<path d="M415.4,333.8 L413.1,327.8 L415.4,329 L417.7,327.8Z" fill="#000"/>
<text x="347" y="362" font-size="8.8" text-anchor="middle" font-weight="normal" font-family='"Liberation Sans", sans-serif' fill="#000">-0.4</text>
<text x="385.8" y="362" font-size="8.8" text-anchor="middle" font-weight="normal" font-family='"Liberation Sans", sans-serif' fill="#000">-0.2</text>
<text x="372.5" y="377.8" font-size="11.5" text-anchor="middle" font-family='"Liberation Sans", sans-serif' fill="#000"><tspan font-style="italic">k</tspan><tspan font-size="6.8999999999999995" dy="1.5" font-style="italic">y</tspan><tspan dy="-1.5"> (Å</tspan><tspan font-size="6.8999999999999995" dy="-3.5">−1</tspan><tspan dy="3.5">)</tspan></text>
<text transform="translate(329.8,296.5) rotate(-90)" font-size="13.3" text-anchor="middle" font-family='"Liberation Sans", sans-serif' fill="#000">Intensity (a.u.)</text>
<text x="317.2" y="399.4" font-size="13.2" text-anchor="start" font-weight="bold" font-family='"Liberation Sans", sans-serif' fill="#000">h</text>
<clipPath id="cliph"><rect x="343" y="415.1" width="53" height="106"/></clipPath>
<g clip-path="url(#cliph)">
<path d="M343,437.36 L343.9,437.1 L344.8,436.82 L345.69,436.5 L346.59,436.14 L347.49,435.73 L348.39,435.27 L349.29,434.75 L350.19,434.17 L351.08,433.51 L351.98,432.78 L352.88,431.97 L353.78,431.09 L354.68,430.17 L355.58,429.22 L356.47,428.31 L357.37,427.5 L358.27,426.84 L359.17,426.36 L360.07,426.06 L360.97,425.9 L361.86,425.82 L362.76,425.75 L363.66,425.66 L364.56,425.5 L365.46,425.26 L366.36,424.95 L367.25,424.56 L368.15,424.1 L369.05,423.59 L369.95,423.04 L370.85,422.47 L371.75,421.88 L372.64,421.31 L373.54,420.76 L374.44,420.26 L375.34,419.82 L376.24,419.46 L377.14,419.19 L378.03,419.03 L378.93,418.98 L379.83,419.06 L380.73,419.27 L381.63,419.6 L382.53,420.06 L383.42,420.63 L384.32,421.31 L385.22,422.08 L386.12,422.93 L387.02,423.85 L387.92,424.82 L388.81,425.83 L389.71,426.86 L390.61,427.9 L391.51,428.94 L392.41,429.98 L393.31,431 L394.2,432 L395.1,432.98 L396,433.93" stroke="#000" stroke-width="1.35" fill="none"/>
<path d="M343,441.2 L343.9,440.92 L344.8,440.62 L345.69,440.28 L346.59,439.92 L347.49,439.52 L348.39,439.09 L349.29,438.62 L350.19,438.1 L351.08,437.54 L351.98,436.94 L352.88,436.28 L353.78,435.58 L354.68,434.83 L355.58,434.06 L356.47,433.27 L357.37,432.48 L358.27,431.72 L359.17,431.02 L360.07,430.41 L360.97,429.9 L361.86,429.51 L362.76,429.23 L363.66,429.03 L364.56,428.91 L365.46,428.83 L366.36,428.76 L367.25,428.71 L368.15,428.65 L369.05,428.57 L369.95,428.49 L370.85,428.41 L371.75,428.32 L372.64,428.25 L373.54,428.2 L374.44,428.17 L375.34,428.18 L376.24,428.23 L377.14,428.33 L378.03,428.48 L378.93,428.69 L379.83,428.95 L380.73,429.28 L381.63,429.66 L382.53,430.09 L383.42,430.56 L384.32,431.09 L385.22,431.65 L386.12,432.24 L387.02,432.85 L387.92,433.49 L388.81,434.14 L389.71,434.8 L390.61,435.46 L391.51,436.12 L392.41,436.78 L393.31,437.42 L394.2,438.06 L395.1,438.68 L396,439.29" stroke="#000" stroke-width="1.35" fill="none"/>
<path d="M343,445.55 L343.9,445.27 L344.8,444.97 L345.69,444.65 L346.59,444.32 L347.49,443.96 L348.39,443.59 L349.29,443.2 L350.19,442.78 L351.08,442.35 L351.98,441.9 L352.88,441.44 L353.78,440.96 L354.68,440.48 L355.58,439.99 L356.47,439.49 L357.37,439 L358.27,438.53 L359.17,438.07 L360.07,437.63 L360.97,437.23 L361.86,436.85 L362.76,436.53 L363.66,436.24 L364.56,436 L365.46,435.8 L366.36,435.64 L367.25,435.52 L368.15,435.43 L369.05,435.38 L369.95,435.35 L370.85,435.34 L371.75,435.36 L372.64,435.4 L373.54,435.47 L374.44,435.56 L375.34,435.69 L376.24,435.86 L377.14,436.08 L378.03,436.34 L378.93,436.65 L379.83,437.01 L380.73,437.4 L381.63,437.84 L382.53,438.3 L383.42,438.78 L384.32,439.28 L385.22,439.78 L386.12,440.27 L387.02,440.76 L387.92,441.23 L388.81,441.68 L389.71,442.11 L390.61,442.52 L391.51,442.9 L392.41,443.26 L393.31,443.6 L394.2,443.92 L395.1,444.21 L396,444.48" stroke="#000" stroke-width="1.35" fill="none"/>
<path d="M343,449.8 L343.9,449.6 L344.8,449.4 L345.69,449.19 L346.59,448.96 L347.49,448.73 L348.39,448.49 L349.29,448.23 L350.19,447.97 L351.08,447.7 L351.98,447.42 L352.88,447.14 L353.78,446.84 L354.68,446.55 L355.58,446.24 L356.47,445.94 L357.37,445.64 L358.27,445.34 L359.17,445.04 L360.07,444.76 L360.97,444.48 L361.86,444.22 L362.76,443.98 L363.66,443.77 L364.56,443.57 L365.46,443.41 L366.36,443.28 L367.25,443.18 L368.15,443.11 L369.05,443.08 L369.95,443.08 L370.85,443.12 L371.75,443.18 L372.64,443.28 L373.54,443.39 L374.44,443.53 L375.34,443.68 L376.24,443.84 L377.14,444 L378.03,444.16 L378.93,444.31 L379.83,444.45 L380.73,444.58 L381.63,444.69 L382.53,444.8 L383.42,444.91 L384.32,445.05 L385.22,445.23 L386.12,445.47 L387.02,445.79 L387.92,446.17 L388.81,446.6 L389.71,447.04 L390.61,447.49 L391.51,447.92 L392.41,448.33 L393.31,448.71 L394.2,449.06 L395.1,449.38 L396,449.68" stroke="#000" stroke-width="1.35" fill="none"/>
<path d="M343,454.84 L343.9,454.63 L344.8,454.42 L345.69,454.19 L346.59,453.96 L347.49,453.71 L348.39,453.46 L349.29,453.19 L350.19,452.92 L351.08,452.63 L351.98,452.34 L352.88,452.04 L353.78,451.74 L354.68,451.42 L355.58,451.11 L356.47,450.79 L357.37,450.47 L358.27,450.16 L359.17,449.85 L360.07,449.55 L360.97,449.26 L361.86,448.99 L362.76,448.73 L363.66,448.5 L364.56,448.3 L365.46,448.13 L366.36,447.98 L367.25,447.88 L368.15,447.8 L369.05,447.76 L369.95,447.76 L370.85,447.79 L371.75,447.86 L372.64,447.95 L373.54,448.07 L374.44,448.2 L375.34,448.36 L376.24,448.52 L377.14,448.69 L378.03,448.85 L378.93,449.01 L379.83,449.16 L380.73,449.29 L381.63,449.41 L382.53,449.53 L383.42,449.65 L384.32,449.8 L385.22,449.99 L386.12,450.25 L387.02,450.58 L387.92,450.97 L388.81,451.4 L389.71,451.85 L390.61,452.3 L391.51,452.73 L392.41,453.14 L393.31,453.52 L394.2,453.87 L395.1,454.19 L396,454.48" stroke="#000" stroke-width="1.35" fill="none"/>
<path d="M343,459.88 L343.9,459.66 L344.8,459.44 L345.69,459.2 L346.59,458.95 L347.49,458.7 L348.39,458.43 L349.29,458.15 L350.19,457.87 L351.08,457.57 L351.98,457.26 L352.88,456.95 L353.78,456.63 L354.68,456.3 L355.58,455.97 L356.47,455.64 L357.37,455.31 L358.27,454.98 L359.17,454.65 L360.07,454.34 L360.97,454.03 L361.86,453.75 L362.76,453.48 L363.66,453.24 L364.56,453.02 L365.46,452.84 L366.36,452.69 L367.25,452.57 L368.15,452.49 L369.05,452.45 L369.95,452.44 L370.85,452.47 L371.75,452.53 L372.64,452.62 L373.54,452.74 L374.44,452.88 L375.34,453.04 L376.24,453.2 L377.14,453.37 L378.03,453.54 L378.93,453.71 L379.83,453.86 L380.73,454 L381.63,454.14 L382.53,454.27 L383.42,454.42 L384.32,454.61 L385.22,454.85 L386.12,455.16 L387.02,455.54 L387.92,455.96 L388.81,456.42 L389.71,456.88 L390.61,457.33 L391.51,457.76 L392.41,458.16 L393.31,458.53 L394.2,458.88 L395.1,459.2 L396,459.49" stroke="#000" stroke-width="1.35" fill="none"/>
<path d="M343,464.93 L343.9,464.71 L344.8,464.47 L345.69,464.22 L346.59,463.96 L347.49,463.69 L348.39,463.41 L349.29,463.11 L350.19,462.8 L351.08,462.49 L351.98,462.16 L352.88,461.82 L353.78,461.48 L354.68,461.13 L355.58,460.78 L356.47,460.43 L357.37,460.09 L358.27,459.74 L359.17,459.41 L360.07,459.09 L360.97,458.78 L361.86,458.5 L362.76,458.23 L363.66,458 L364.56,457.78 L365.46,457.6 L366.36,457.46 L367.25,457.34 L368.15,457.26 L369.05,457.2 L369.95,457.18 L370.85,457.19 L371.75,457.23 L372.64,457.3 L373.54,457.38 L374.44,457.49 L375.34,457.62 L376.24,457.76 L377.14,457.92 L378.03,458.1 L378.93,458.29 L379.83,458.5 L380.73,458.72 L381.63,458.95 L382.53,459.2 L383.42,459.46 L384.32,459.74 L385.22,460.03 L386.12,460.34 L387.02,460.67 L387.92,461.01 L388.81,461.36 L389.71,461.73 L390.61,462.1 L391.51,462.49 L392.41,462.88 L393.31,463.28 L394.2,463.68 L395.1,464.08 L396,464.48" stroke="#000" stroke-width="1.35" fill="none"/>
<path d="M343,469.97 L343.9,469.73 L344.8,469.49 L345.69,469.23 L346.59,468.96 L347.49,468.67 L348.39,468.38 L349.29,468.07 L350.19,467.75 L351.08,467.42 L351.98,467.08 L352.88,466.73 L353.78,466.38 L354.68,466.02 L355.58,465.66 L356.47,465.29 L357.37,464.93 L358.27,464.58 L359.17,464.23 L360.07,463.89 L360.97,463.57 L361.86,463.27 L362.76,462.99 L363.66,462.74 L364.56,462.52 L365.46,462.32 L366.36,462.16 L367.25,462.03 L368.15,461.93 L369.05,461.87 L369.95,461.84 L370.85,461.85 L371.75,461.88 L372.64,461.94 L373.54,462.02 L374.44,462.13 L375.34,462.27 L376.24,462.42 L377.14,462.59 L378.03,462.79 L378.93,463 L379.83,463.22 L380.73,463.47 L381.63,463.73 L382.53,464.01 L383.42,464.3 L384.32,464.61 L385.22,464.93 L386.12,465.27 L387.02,465.62 L387.92,465.99 L388.81,466.36 L389.71,466.74 L390.61,467.13 L391.51,467.52 L392.41,467.92 L393.31,468.32 L394.2,468.71 L395.1,469.1 L396,469.49" stroke="#000" stroke-width="1.35" fill="none"/>
<path d="M343,475.49 L343.9,475.25 L344.8,474.99 L345.69,474.72 L346.59,474.44 L347.49,474.15 L348.39,473.85 L349.29,473.53 L350.19,473.21 L351.08,472.87 L351.98,472.52 L352.88,472.17 L353.78,471.8 L354.68,471.43 L355.58,471.06 L356.47,470.68 L357.37,470.31 L358.27,469.93 L359.17,469.56 L360.07,469.21 L360.97,468.86 L361.86,468.54 L362.76,468.23 L363.66,467.95 L364.56,467.7 L365.46,467.49 L366.36,467.31 L367.25,467.17 L368.15,467.06 L369.05,467 L369.95,466.98 L370.85,467 L371.75,467.05 L372.64,467.14 L373.54,467.25 L374.44,467.39 L375.34,467.55 L376.24,467.73 L377.14,467.91 L378.03,468.09 L378.93,468.28 L379.83,468.46 L380.73,468.65 L381.63,468.84 L382.53,469.04 L383.42,469.26 L384.32,469.52 L385.22,469.82 L386.12,470.16 L387.02,470.54 L387.92,470.96 L388.81,471.4 L389.71,471.84 L390.61,472.28 L391.51,472.71 L392.41,473.11 L393.31,473.5 L394.2,473.85 L395.1,474.19 L396,474.5" stroke="#000" stroke-width="1.35" fill="none"/>
<path d="M343,481 L343.9,480.77 L344.8,480.52 L345.69,480.26 L346.59,479.98 L347.49,479.69 L348.39,479.38 L349.29,479.06 L350.19,478.72 L351.08,478.37 L351.98,478.01 L352.88,477.63 L353.78,477.24 L354.68,476.85 L355.58,476.45 L356.47,476.04 L357.37,475.64 L358.27,475.24 L359.17,474.84 L360.07,474.46 L360.97,474.09 L361.86,473.75 L362.76,473.43 L363.66,473.14 L364.56,472.89 L365.46,472.67 L366.36,472.49 L367.25,472.35 L368.15,472.25 L369.05,472.19 L369.95,472.18 L370.85,472.19 L371.75,472.25 L372.64,472.33 L373.54,472.44 L374.44,472.57 L375.34,472.72 L376.24,472.88 L377.14,473.06 L378.03,473.25 L378.93,473.45 L379.83,473.66 L380.73,473.87 L381.63,474.1 L382.53,474.33 L383.42,474.57 L384.32,474.82 L385.22,475.09 L386.12,475.36 L387.02,475.66 L387.92,475.97 L388.81,476.3 L389.71,476.65 L390.61,477.01 L391.51,477.39 L392.41,477.79 L393.31,478.2 L394.2,478.62 L395.1,479.06 L396,479.5" stroke="#000" stroke-width="1.35" fill="none"/>
<path d="M343,488 L343.9,487.37 L344.8,486.74 L345.69,486.14 L346.59,485.61 L347.49,485.18 L348.39,484.86 L349.29,484.65 L350.19,484.51 L351.08,484.39 L351.98,484.26 L352.88,484.1 L353.78,483.88 L354.68,483.61 L355.58,483.28 L356.47,482.9 L357.37,482.46 L358.27,481.98 L359.17,481.46 L360.07,480.92 L360.97,480.36 L361.86,479.79 L362.76,479.22 L363.66,478.68 L364.56,478.16 L365.46,477.69 L366.36,477.29 L367.25,476.95 L368.15,476.7 L369.05,476.54 L369.95,476.48 L370.85,476.51 L371.75,476.65 L372.64,476.88 L373.54,477.19 L374.44,477.58 L375.34,478.03 L376.24,478.53 L377.14,479.07 L378.03,479.63 L378.93,480.21 L379.83,480.79 L380.73,481.37 L381.63,481.94 L382.53,482.49 L383.42,483.02 L384.32,483.53 L385.22,484.02 L386.12,484.48 L387.02,484.91 L387.92,485.32 L388.81,485.7 L389.71,486.06 L390.61,486.4 L391.51,486.71 L392.41,487 L393.31,487.26 L394.2,487.51 L395.1,487.75 L396,487.96" stroke="#000" stroke-width="2.3" fill="none"/>
<path d="M343,492.8 L343.9,492.75 L344.8,492.69 L345.69,492.62 L346.59,492.55 L347.49,492.46 L348.39,492.37 L349.29,492.26 L350.19,492.13 L351.08,491.99 L351.98,491.82 L352.88,491.63 L353.78,491.42 L354.68,491.16 L355.58,490.87 L356.47,490.54 L357.37,490.15 L358.27,489.71 L359.17,489.2 L360.07,488.64 L360.97,488.02 L361.86,487.38 L362.76,486.74 L363.66,486.15 L364.56,485.68 L365.46,485.38 L366.36,485.27 L367.25,485.33 L368.15,485.53 L369.05,485.79 L369.95,486.06 L370.85,486.27 L371.75,486.39 L372.64,486.4 L373.54,486.28 L374.44,486.04 L375.34,485.67 L376.24,485.2 L377.14,484.68 L378.03,484.18 L378.93,483.77 L379.83,483.56 L380.73,483.61 L381.63,483.94 L382.53,484.53 L383.42,485.28 L384.32,486.13 L385.22,486.99 L386.12,487.82 L387.02,488.57 L387.92,489.24 L388.81,489.83 L389.71,490.35 L390.61,490.8 L391.51,491.19 L392.41,491.52 L393.31,491.82 L394.2,492.07 L395.1,492.3 L396,492.5" stroke="#000" stroke-width="1.35" fill="none"/>
<path d="M343,497.5 L343.9,497.4 L344.8,497.29 L345.69,497.16 L346.59,497.02 L347.49,496.86 L348.39,496.68 L349.29,496.48 L350.19,496.25 L351.08,495.98 L351.98,495.69 L352.88,495.36 L353.78,494.99 L354.68,494.57 L355.58,494.12 L356.47,493.63 L357.37,493.11 L358.27,492.57 L359.17,492.05 L360.07,491.56 L360.97,491.15 L361.86,490.84 L362.76,490.65 L363.66,490.6 L364.56,490.66 L365.46,490.81 L366.36,491.02 L367.25,491.25 L368.15,491.47 L369.05,491.65 L369.95,491.79 L370.85,491.88 L371.75,491.91 L372.64,491.89 L373.54,491.82 L374.44,491.72 L375.34,491.61 L376.24,491.5 L377.14,491.4 L378.03,491.34 L378.93,491.34 L379.83,491.41 L380.73,491.55 L381.63,491.77 L382.53,492.06 L383.42,492.42 L384.32,492.81 L385.22,493.24 L386.12,493.68 L387.02,494.12 L387.92,494.56 L388.81,494.98 L389.71,495.38 L390.61,495.75 L391.51,496.1 L392.41,496.43 L393.31,496.73 L394.2,497.01 L395.1,497.26 L396,497.5" stroke="#000" stroke-width="1.35" fill="none"/>
<path d="M343,501.5 L343.9,501.29 L344.8,501.06 L345.69,500.81 L346.59,500.53 L347.49,500.23 L348.39,499.9 L349.29,499.54 L350.19,499.15 L351.08,498.74 L351.98,498.31 L352.88,497.86 L353.78,497.4 L354.68,496.96 L355.58,496.53 L356.47,496.13 L357.37,495.8 L358.27,495.52 L359.17,495.33 L360.07,495.22 L360.97,495.2 L361.86,495.25 L362.76,495.36 L363.66,495.52 L364.56,495.71 L365.46,495.91 L366.36,496.11 L367.25,496.3 L368.15,496.47 L369.05,496.61 L369.95,496.72 L370.85,496.81 L371.75,496.88 L372.64,496.93 L373.54,496.98 L374.44,497.01 L375.34,497.05 L376.24,497.1 L377.14,497.17 L378.03,497.27 L378.93,497.39 L379.83,497.55 L380.73,497.74 L381.63,497.97 L382.53,498.23 L383.42,498.51 L384.32,498.82 L385.22,499.15 L386.12,499.49 L387.02,499.84 L387.92,500.19 L388.81,500.55 L389.71,500.89 L390.61,501.23 L391.51,501.56 L392.41,501.87 L393.31,502.17 L394.2,502.46 L395.1,502.74 L396,503" stroke="#000" stroke-width="1.35" fill="none"/>
<path d="M343,505.5 L343.9,505.02 L344.8,504.53 L345.69,504.03 L346.59,503.52 L347.49,503.02 L348.39,502.53 L349.29,502.06 L350.19,501.61 L351.08,501.2 L351.98,500.83 L352.88,500.52 L353.78,500.25 L354.68,500.05 L355.58,499.91 L356.47,499.83 L357.37,499.8 L358.27,499.82 L359.17,499.89 L360.07,499.99 L360.97,500.12 L361.86,500.27 L362.76,500.43 L363.66,500.6 L364.56,500.78 L365.46,500.94 L366.36,501.11 L367.25,501.27 L368.15,501.43 L369.05,501.58 L369.95,501.72 L370.85,501.87 L371.75,502.02 L372.64,502.18 L373.54,502.34 L374.44,502.51 L375.34,502.7 L376.24,502.9 L377.14,503.11 L378.03,503.35 L378.93,503.59 L379.83,503.86 L380.73,504.14 L381.63,504.44 L382.53,504.74 L383.42,505.06 L384.32,505.39 L385.22,505.72 L386.12,506.06 L387.02,506.39 L387.92,506.73 L388.81,507.06 L389.71,507.4 L390.61,507.72 L391.51,508.04 L392.41,508.35 L393.31,508.65 L394.2,508.94 L395.1,509.23 L396,509.5" stroke="#000" stroke-width="1.35" fill="none"/>
<path d="M343,509.3 L343.9,509.01 L344.8,508.69 L345.69,508.34 L346.59,507.95 L347.49,507.54 L348.39,507.11 L349.29,506.68 L350.19,506.26 L351.08,505.88 L351.98,505.56 L352.88,505.34 L353.78,505.22 L354.68,505.21 L355.58,505.32 L356.47,505.54 L357.37,505.84 L358.27,506.21 L359.17,506.6 L360.07,507.01 L360.97,507.4 L361.86,507.78 L362.76,508.12 L363.66,508.43 L364.56,508.7 L365.46,508.93 L366.36,509.12 L367.25,509.28 L368.15,509.41 L369.05,509.51 L369.95,509.6 L370.85,509.67 L371.75,509.74 L372.64,509.81 L373.54,509.88 L374.44,509.96 L375.34,510.07 L376.24,510.19 L377.14,510.34 L378.03,510.52 L378.93,510.73 L379.83,510.96 L380.73,511.23 L381.63,511.52 L382.53,511.83 L383.42,512.16 L384.32,512.5 L385.22,512.85 L386.12,513.21 L387.02,513.57 L387.92,513.92 L388.81,514.28 L389.71,514.62 L390.61,514.96 L391.51,515.3 L392.41,515.62 L393.31,515.93 L394.2,516.23 L395.1,516.52 L396,516.8" stroke="#000" stroke-width="1.35" fill="none"/>
</g>
<line x1="362.4" y1="420" x2="370.3" y2="478" stroke="#22a8e2" stroke-width="2.1" stroke-dasharray="4,1.5"/>
<line x1="380.2" y1="416.5" x2="370.3" y2="478" stroke="#22a8e2" stroke-width="2.1" stroke-dasharray="4,1.5"/>
<line x1="366.3" y1="481" x2="366.3" y2="488.5" stroke="#22a8e2" stroke-width="2.1" stroke-dasharray="4,1.5"/>
<line x1="362.4" y1="489" x2="362.4" y2="496.5" stroke="#22a8e2" stroke-width="2.1" stroke-dasharray="4,1.5"/>
<line x1="358.5" y1="496" x2="358.5" y2="503.5" stroke="#22a8e2" stroke-width="2.1" stroke-dasharray="4,1.5"/>
<line x1="354.6" y1="503" x2="354.6" y2="510.5" stroke="#22a8e2" stroke-width="2.1" stroke-dasharray="4,1.5"/>
<line x1="374.1" y1="481" x2="374.1" y2="488.5" stroke="#22a8e2" stroke-width="2.1" stroke-dasharray="4,1.5"/>
<line x1="376" y1="490" x2="376" y2="497.5" stroke="#22a8e2" stroke-width="2.1" stroke-dasharray="4,1.5"/>
<line x1="377" y1="498" x2="377" y2="505.5" stroke="#22a8e2" stroke-width="2.1" stroke-dasharray="4,1.5"/>
<line x1="378.9" y1="507.5" x2="378.9" y2="515" stroke="#22a8e2" stroke-width="2.1" stroke-dasharray="4,1.5"/>
<rect x="343" y="415.1" width="53" height="105.9" stroke="#000" stroke-width="1.2" fill="none"/>
<line x1="347.5" y1="521" x2="347.5" y2="516" stroke="#000" stroke-width="1.1"/>
<line x1="367.1" y1="521" x2="367.1" y2="516" stroke="#000" stroke-width="1.1"/>
<line x1="387.3" y1="521" x2="387.3" y2="516" stroke="#000" stroke-width="1.1"/>
<line x1="396" y1="516.5" x2="399" y2="516.5" stroke="#000" stroke-width="0.9"/>
<text x="408" y="440" font-size="11.5" font-family='"Liberation Sans", sans-serif' fill="#000"><tspan font-style="italic">E</tspan><tspan font-size="6.5" dy="0.5">F</tspan></text>
<line x1="412.6" y1="443" x2="412.6" y2="474" stroke="#000" stroke-width="0.9"/>
<path d="M412.6,478 L410.3,472 L412.6,473.2 L414.9,472Z" fill="#000"/>
<text x="412.5" y="491" font-size="10.5" text-anchor="middle" font-weight="normal" font-family='"Liberation Sans", sans-serif' fill="#000">ED</text>
<line x1="412.6" y1="494" x2="412.6" y2="504" stroke="#000" stroke-width="0.9"/>
<path d="M412.6,508 L410.3,502 L412.6,503.2 L414.9,502Z" fill="#000"/>
<text x="398" y="519" font-size="9.8" text-anchor="start" font-weight="normal" font-family='"Liberation Sans", sans-serif' fill="#000">–0.6 eV</text>
<text x="347.6" y="533" font-size="8.8" text-anchor="middle" font-weight="normal" font-family='"Liberation Sans", sans-serif' fill="#000">-0.4</text>
<text x="386.4" y="533" font-size="8.8" text-anchor="middle" font-weight="normal" font-family='"Liberation Sans", sans-serif' fill="#000">-0.2</text>
<text x="372.3" y="545" font-size="11.5" text-anchor="middle" font-family='"Liberation Sans", sans-serif' fill="#000"><tspan font-style="italic">k</tspan><tspan font-size="6.8999999999999995" dy="1.5" font-style="italic">//</tspan><tspan dy="-1.5"> (Å</tspan><tspan font-size="6.8999999999999995" dy="-3.5">−1</tspan><tspan dy="3.5">)</tspan></text>
<text transform="translate(329.8,468) rotate(-90)" font-size="13.3" text-anchor="middle" font-family='"Liberation Sans", sans-serif' fill="#000">Intensity (a.u.)</text>
</svg></body></html>
